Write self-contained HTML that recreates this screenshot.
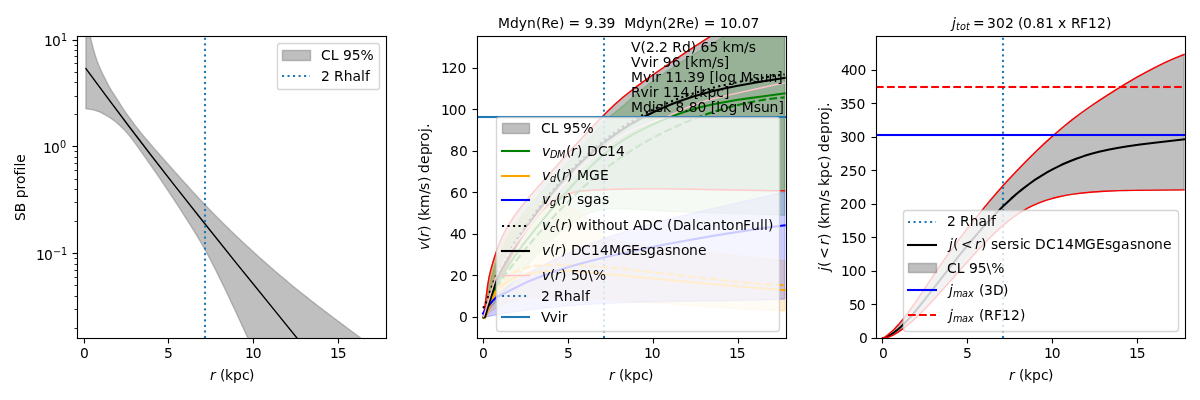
<!DOCTYPE html>
<html lang="en">
<head>
<meta charset="utf-8">
<title>Rotation curve summary</title>
<style>
html,body{margin:0;padding:0;background:#fff;}
body{width:1200px;height:400px;overflow:hidden;}
svg{display:block;}
svg text{white-space:pre;}
</style>
</head>
<body>
<svg width="1200" height="400" viewBox="0 0 864 288" version="1.1">
<defs>
<style type="text/css">*{stroke-linejoin: round; stroke-linecap: butt}</style>
</defs>
<g id="figure_1">
<g id="patch_1">
<path d="M 0 288 L 864 288 L 864 0 L 0 0 z" style="fill: #ffffff"/>
</g>
<g id="axes_1">
<g id="patch_2">
<path d="M 55.44 243.36 L 277.92 243.36 L 277.92 25.92 L 55.44 25.92 z" style="fill: #ffffff"/>
</g>
<g id="FillBetweenPolyCollection_1">
<path d="M 61.884 9.978 L 61.884 78.340 L 63.215 78.472 L 64.547 78.660 L 65.878 78.887 L 67.210 79.157 L 68.541 79.500 L 69.873 79.919 L 71.204 80.406 L 72.536 80.986 L 73.867 81.669 L 75.199 82.398 L 76.531 83.138 L 77.862 83.906 L 79.194 84.728 L 80.525 85.631 L 81.857 86.632 L 83.188 87.709 L 84.520 88.825 L 85.851 89.975 L 87.183 91.183 L 88.514 92.476 L 89.846 93.862 L 91.178 95.340 L 92.509 96.910 L 93.841 98.572 L 95.172 100.312 L 96.504 102.094 L 97.835 103.896 L 99.167 105.733 L 100.498 107.599 L 101.830 109.483 L 103.161 111.378 L 104.493 113.272 L 105.825 115.163 L 107.156 117.052 L 108.488 118.947 L 109.819 120.853 L 111.151 122.770 L 112.482 124.698 L 113.814 126.636 L 115.145 128.585 L 116.477 130.545 L 117.808 132.514 L 119.140 134.494 L 120.472 136.484 L 121.803 138.483 L 123.135 140.492 L 124.466 142.510 L 125.798 144.538 L 127.129 146.574 L 128.461 148.620 L 129.792 150.674 L 131.124 152.737 L 132.456 154.808 L 133.787 156.888 L 135.119 158.978 L 136.450 161.083 L 137.782 163.205 L 139.113 165.349 L 140.445 167.519 L 141.776 169.719 L 143.108 171.953 L 144.439 174.225 L 145.771 176.539 L 147.103 178.899 L 148.434 181.308 L 149.766 183.766 L 151.097 186.270 L 152.429 188.817 L 153.760 191.403 L 155.092 194.027 L 156.423 196.684 L 157.755 199.372 L 159.086 202.087 L 160.418 204.828 L 161.750 207.590 L 163.081 210.370 L 164.413 213.167 L 165.744 215.976 L 167.076 218.795 L 168.407 221.624 L 169.739 224.463 L 171.070 227.311 L 172.402 230.169 L 173.733 233.035 L 175.065 235.911 L 176.397 238.794 L 177.728 241.687 L 179.060 244.588 L 180.391 247.497 L 181.723 250.414 L 183.054 253.338 L 184.386 256.271 L 185.717 259.210 L 187.049 262.157 L 188.380 265.111 L 189.712 268.072 L 191.044 271.040 L 192.375 274.014 L 193.707 276.995 L 195.038 279.982 L 196.370 282.975 L 197.701 285.974 L 199.033 288.978 L 200.364 291.988 L 201.696 295.003 L 203.028 298.023 L 204.359 301.049 L 205.691 304.079 L 207.022 307.113 L 208.354 310.152 L 209.685 313.196 L 211.017 316.243 L 212.348 319.294 L 213.680 322.349 L 215.011 325.408 L 216.343 328.470 L 217.675 331.535 L 219.006 334.603 L 220.338 337.674 L 221.669 340.747 L 223.001 343.823 L 224.332 346.902 L 225.664 349.982 L 226.995 353.064 L 228.327 356.149 L 229.658 359.234 L 230.990 362.321 L 232.322 365.410 L 233.653 368.499 L 234.985 371.590 L 236.316 374.681 L 237.648 377.772 L 238.979 380.864 L 240.311 383.956 L 241.642 387.048 L 242.974 390.140 L 244.305 393.231 L 245.637 396.322 L 246.969 399.413 L 248.300 402.502 L 249.632 405.590 L 250.963 408.677 L 252.295 411.763 L 253.626 414.847 L 254.958 417.929 L 256.289 421.009 L 257.621 424.087 L 258.952 427.163 L 260.284 430.236 L 261.616 433.307 L 262.947 436.375 L 264.279 439.440 L 265.610 442.501 L 266.942 445.559 L 268.273 448.614 L 269.605 451.665 L 270.936 454.712 L 272.268 457.755 L 273.6 460.793 L 273.6 253.876 L 273.6 253.876 L 272.268 252.863 L 270.936 251.852 L 269.605 250.844 L 268.273 249.838 L 266.942 248.835 L 265.610 247.833 L 264.279 246.833 L 262.947 245.835 L 261.616 244.837 L 260.284 243.842 L 258.952 242.847 L 257.621 241.853 L 256.289 240.859 L 254.958 239.866 L 253.626 238.873 L 252.295 237.880 L 250.963 236.887 L 249.632 235.894 L 248.300 234.900 L 246.969 233.905 L 245.637 232.910 L 244.305 231.913 L 242.974 230.915 L 241.642 229.916 L 240.311 228.915 L 238.979 227.912 L 237.648 226.907 L 236.316 225.900 L 234.985 224.890 L 233.653 223.878 L 232.322 222.863 L 230.990 221.845 L 229.658 220.824 L 228.327 219.799 L 226.995 218.771 L 225.664 217.739 L 224.332 216.703 L 223.001 215.663 L 221.669 214.618 L 220.338 213.569 L 219.006 212.516 L 217.675 211.457 L 216.343 210.393 L 215.011 209.324 L 213.680 208.250 L 212.348 207.170 L 211.017 206.084 L 209.685 204.992 L 208.354 203.895 L 207.022 202.791 L 205.691 201.682 L 204.359 200.567 L 203.028 199.446 L 201.696 198.320 L 200.364 197.187 L 199.033 196.049 L 197.701 194.905 L 196.370 193.756 L 195.038 192.600 L 193.707 191.439 L 192.375 190.272 L 191.044 189.099 L 189.712 187.921 L 188.380 186.737 L 187.049 185.547 L 185.717 184.352 L 184.386 183.151 L 183.054 181.944 L 181.723 180.731 L 180.391 179.513 L 179.060 178.289 L 177.728 177.060 L 176.397 175.825 L 175.065 174.583 L 173.733 173.336 L 172.402 172.082 L 171.070 170.822 L 169.739 169.555 L 168.407 168.282 L 167.076 167.002 L 165.744 165.715 L 164.413 164.422 L 163.081 163.121 L 161.750 161.813 L 160.418 160.497 L 159.086 159.174 L 157.755 157.844 L 156.423 156.506 L 155.092 155.159 L 153.760 153.805 L 152.429 152.443 L 151.097 151.073 L 149.766 149.694 L 148.434 148.307 L 147.103 146.911 L 145.771 145.506 L 144.439 144.093 L 143.108 142.671 L 141.776 141.240 L 140.445 139.801 L 139.113 138.354 L 137.782 136.900 L 136.450 135.439 L 135.119 133.972 L 133.787 132.500 L 132.456 131.022 L 131.124 129.540 L 129.792 128.053 L 128.461 126.563 L 127.129 125.070 L 125.798 123.574 L 124.466 122.076 L 123.135 120.576 L 121.803 119.075 L 120.472 117.573 L 119.140 116.071 L 117.808 114.570 L 116.477 113.069 L 115.145 111.566 L 113.814 110.060 L 112.482 108.548 L 111.151 107.030 L 109.819 105.501 L 108.488 103.962 L 107.156 102.409 L 105.825 100.840 L 104.493 99.254 L 103.161 97.649 L 101.830 96.022 L 100.498 94.372 L 99.167 92.696 L 97.835 90.992 L 96.504 89.259 L 95.172 87.491 L 93.841 85.687 L 92.509 83.843 L 91.178 81.955 L 89.846 80.020 L 88.514 78.032 L 87.183 75.983 L 85.851 73.884 L 84.520 71.772 L 83.188 69.697 L 81.857 67.662 L 80.525 65.609 L 79.194 63.447 L 77.862 61.064 L 76.531 58.420 L 75.199 55.749 L 73.867 53.114 L 72.536 50.275 L 71.204 47.142 L 69.873 43.680 L 68.541 39.784 L 67.210 35.311 L 65.878 29.958 L 64.547 23.801 L 63.215 17.127 L 61.884 9.978 z" clip-path="url(#p9da2a6574b)" style="fill: #808080; fill-opacity: 0.5; stroke: #808080; stroke-opacity: 0.5"/>
</g>
<g id="matplotlib.axis_1">
<g id="xtick_1">
<g id="line2d_1">
<defs>
<path id="m7a11be87dc" d="M 0 0 L 0 3.6" style="stroke: #000000; stroke-width: 0.8"/>
</defs>
<g>
<use href="#m7a11be87dc" x="60.84" y="243.72" style="stroke: #000000; stroke-width: 0.8"/>
</g>
</g>
<g id="tx4"><text transform="translate(57.6 257.76)" style="font-family: 'DejaVu Sans', 'Liberation Sans', sans-serif"><tspan x="0" y="0" style="font-size: 10px">0</tspan></text></g>
</g>
<g id="xtick_2">
<g id="line2d_2">
<g>
<use href="#m7a11be87dc" x="121.32" y="243.72" style="stroke: #000000; stroke-width: 0.8"/>
</g>
</g>
<g id="tx6"><text transform="translate(118.8 257.76)" style="font-family: 'DejaVu Sans', 'Liberation Sans', sans-serif"><tspan x="-0.72" y="0" style="font-size: 10px">5</tspan></text></g>
</g>
<g id="xtick_3">
<g id="line2d_3">
<g>
<use href="#m7a11be87dc" x="182.52" y="243.72" style="stroke: #000000; stroke-width: 0.8"/>
</g>
</g>
<g id="tx8"><text transform="translate(177.12 257.76)" style="font-family: 'DejaVu Sans', 'Liberation Sans', sans-serif"><tspan x="-0.72 4.95" y="0" style="font-size: 10px">10</tspan></text></g>
</g>
<g id="xtick_4">
<g id="line2d_4">
<g>
<use href="#m7a11be87dc" x="243.72" y="243.72" style="stroke: #000000; stroke-width: 0.8"/>
</g>
</g>
<g id="tx10"><text transform="translate(238.32 257.76)" style="font-family: 'DejaVu Sans', 'Liberation Sans', sans-serif"><tspan x="-0.72 4.95" y="0" style="font-size: 10px">15</tspan></text></g>
</g>
<g id="tx0"><text transform="translate(150.48 264.96)" style="font-family: 'DejaVu Sans', 'Liberation Sans', sans-serif"><tspan x="0.72" y="8.64" style="font-size: 10px; font-style: oblique">r</tspan><tspan x="4.32 7.92 11.52 17.28 23.76 28.8" y="8.64" style="font-size: 10px"> (kpc)</tspan></text></g>
</g>
<g id="matplotlib.axis_2">
<g id="ytick_1">
<g id="line2d_5">
<defs>
<path id="m886c599e26" d="M 0 0 L -3.6 0" style="stroke: #000000; stroke-width: 0.8"/>
</defs>
<g>
<use href="#m886c599e26" x="55.8" y="182.52" style="stroke: #000000; stroke-width: 0.8"/>
</g>
</g>
<g id="tx20"><text transform="translate(25.2 177.12)" style="font-family: 'DejaVu Sans', 'Liberation Sans', sans-serif"><tspan x="0.72 6.48" y="10.08" style="font-size: 10px">10</tspan><tspan x="12.96 18.72" y="6.48" style="font-size: 7px">−1</tspan></text></g>
</g>
<g id="ytick_2">
<g id="line2d_6">
<g>
<use href="#m886c599e26" x="55.8" y="105.48" style="stroke: #000000; stroke-width: 0.8"/>
</g>
</g>
<g id="tx22"><text transform="translate(30.24 100.08)" style="font-family: 'DejaVu Sans', 'Liberation Sans', sans-serif"><tspan x="0.72 6.48" y="10.08" style="font-size: 10px">10</tspan><tspan x="12.96" y="6.48" style="font-size: 7px">0</tspan></text></g>
</g>
<g id="ytick_3">
<g id="line2d_7">
<g>
<use href="#m886c599e26" x="55.8" y="29.16" style="stroke: #000000; stroke-width: 0.8"/>
</g>
</g>
<g id="tx24"><text transform="translate(30.96 23.04)" style="font-family: 'DejaVu Sans', 'Liberation Sans', sans-serif"><tspan x="0.72 6.48" y="10.08" style="font-size: 10px">10</tspan><tspan x="12.96" y="6.48" style="font-size: 7px">1</tspan></text></g>
</g>
<g id="ytick_4">
<g id="line2d_8">
<defs>
<path id="m1c4f3909a1" d="M 0 0 L -2.16 0" style="stroke: #000000; stroke-width: 0.6"/>
</defs>
<g>
<use href="#m1c4f3909a1" x="55.8" y="236.52" style="stroke: #000000; stroke-width: 0.6"/>
</g>
</g>
</g>
<g id="ytick_5">
<g id="line2d_9">
<g>
<use href="#m1c4f3909a1" x="55.8" y="222.84" style="stroke: #000000; stroke-width: 0.6"/>
</g>
</g>
</g>
<g id="ytick_6">
<g id="line2d_10">
<g>
<use href="#m1c4f3909a1" x="55.8" y="213.48" style="stroke: #000000; stroke-width: 0.6"/>
</g>
</g>
</g>
<g id="ytick_7">
<g id="line2d_11">
<g>
<use href="#m1c4f3909a1" x="55.8" y="205.56" style="stroke: #000000; stroke-width: 0.6"/>
</g>
</g>
</g>
<g id="ytick_8">
<g id="line2d_12">
<g>
<use href="#m1c4f3909a1" x="55.8" y="199.8" style="stroke: #000000; stroke-width: 0.6"/>
</g>
</g>
</g>
<g id="ytick_9">
<g id="line2d_13">
<g>
<use href="#m1c4f3909a1" x="55.8" y="194.76" style="stroke: #000000; stroke-width: 0.6"/>
</g>
</g>
</g>
<g id="ytick_10">
<g id="line2d_14">
<g>
<use href="#m1c4f3909a1" x="55.8" y="190.44" style="stroke: #000000; stroke-width: 0.6"/>
</g>
</g>
</g>
<g id="ytick_11">
<g id="line2d_15">
<g>
<use href="#m1c4f3909a1" x="55.8" y="186.12" style="stroke: #000000; stroke-width: 0.6"/>
</g>
</g>
</g>
<g id="ytick_12">
<g id="line2d_16">
<g>
<use href="#m1c4f3909a1" x="55.8" y="159.48" style="stroke: #000000; stroke-width: 0.6"/>
</g>
</g>
</g>
<g id="ytick_13">
<g id="line2d_17">
<g>
<use href="#m1c4f3909a1" x="55.8" y="145.8" style="stroke: #000000; stroke-width: 0.6"/>
</g>
</g>
</g>
<g id="ytick_14">
<g id="line2d_18">
<g>
<use href="#m1c4f3909a1" x="55.8" y="136.44" style="stroke: #000000; stroke-width: 0.6"/>
</g>
</g>
</g>
<g id="ytick_15">
<g id="line2d_19">
<g>
<use href="#m1c4f3909a1" x="55.8" y="129.24" style="stroke: #000000; stroke-width: 0.6"/>
</g>
</g>
</g>
<g id="ytick_16">
<g id="line2d_20">
<g>
<use href="#m1c4f3909a1" x="55.8" y="122.76" style="stroke: #000000; stroke-width: 0.6"/>
</g>
</g>
</g>
<g id="ytick_17">
<g id="line2d_21">
<g>
<use href="#m1c4f3909a1" x="55.8" y="117.72" style="stroke: #000000; stroke-width: 0.6"/>
</g>
</g>
</g>
<g id="ytick_18">
<g id="line2d_22">
<g>
<use href="#m1c4f3909a1" x="55.8" y="113.4" style="stroke: #000000; stroke-width: 0.6"/>
</g>
</g>
</g>
<g id="ytick_19">
<g id="line2d_23">
<g>
<use href="#m1c4f3909a1" x="55.8" y="109.08" style="stroke: #000000; stroke-width: 0.6"/>
</g>
</g>
</g>
<g id="ytick_20">
<g id="line2d_24">
<g>
<use href="#m1c4f3909a1" x="55.8" y="82.44" style="stroke: #000000; stroke-width: 0.6"/>
</g>
</g>
</g>
<g id="ytick_21">
<g id="line2d_25">
<g>
<use href="#m1c4f3909a1" x="55.8" y="69.48" style="stroke: #000000; stroke-width: 0.6"/>
</g>
</g>
</g>
<g id="ytick_22">
<g id="line2d_26">
<g>
<use href="#m1c4f3909a1" x="55.8" y="59.4" style="stroke: #000000; stroke-width: 0.6"/>
</g>
</g>
</g>
<g id="ytick_23">
<g id="line2d_27">
<g>
<use href="#m1c4f3909a1" x="55.8" y="52.2" style="stroke: #000000; stroke-width: 0.6"/>
</g>
</g>
</g>
<g id="ytick_24">
<g id="line2d_28">
<g>
<use href="#m1c4f3909a1" x="55.8" y="45.72" style="stroke: #000000; stroke-width: 0.6"/>
</g>
</g>
</g>
<g id="ytick_25">
<g id="line2d_29">
<g>
<use href="#m1c4f3909a1" x="55.8" y="40.68" style="stroke: #000000; stroke-width: 0.6"/>
</g>
</g>
</g>
<g id="ytick_26">
<g id="line2d_30">
<g>
<use href="#m1c4f3909a1" x="55.8" y="36.36" style="stroke: #000000; stroke-width: 0.6"/>
</g>
</g>
</g>
<g id="ytick_27">
<g id="line2d_31">
<g>
<use href="#m1c4f3909a1" x="55.8" y="32.76" style="stroke: #000000; stroke-width: 0.6"/>
</g>
</g>
</g>
<g id="tx14"><text transform="translate(18 159.12) rotate(-90)" style="font-family: 'DejaVu Sans', 'Liberation Sans', sans-serif"><tspan x="0 6.3 13.23 16.38 22.77 26.73 32.85 36.45 39.24 42.03" y="0" style="font-size: 10px">SB profile</tspan></text></g>
</g>
<g id="line2d_32">
<path d="M 61.884 49.412 L 76.531 69.264 L 92.509 90.517 L 108.488 111.398 L 125.798 133.657 L 145.771 158.954 L 168.407 187.243 L 199.033 225.118 L 250.787 289 L 250.787 289" clip-path="url(#p9da2a6574b)" style="fill: none; stroke: #000000; stroke-linecap: square"/>
</g>
<g id="line2d_33">
<g><path d="M 147.6 243.36 L 147.6 241.86" clip-path="url(#p9da2a6574b)" style="fill: none; stroke: #1f77b4; stroke-width: 1.5; stroke-linecap: butt"/><path d="M 147.6 239.385 L 147.6 237.885" clip-path="url(#p9da2a6574b)" style="fill: none; stroke: #1f77b4; stroke-width: 1.5; stroke-linecap: butt"/><path d="M 147.6 235.41 L 147.6 233.91" clip-path="url(#p9da2a6574b)" style="fill: none; stroke: #1f77b4; stroke-width: 1.5; stroke-linecap: butt"/><path d="M 147.6 231.435 L 147.6 229.935" clip-path="url(#p9da2a6574b)" style="fill: none; stroke: #1f77b4; stroke-width: 1.5; stroke-linecap: butt"/><path d="M 147.6 227.46 L 147.6 225.96" clip-path="url(#p9da2a6574b)" style="fill: none; stroke: #1f77b4; stroke-width: 1.5; stroke-linecap: butt"/><path d="M 147.6 223.485 L 147.6 221.985" clip-path="url(#p9da2a6574b)" style="fill: none; stroke: #1f77b4; stroke-width: 1.5; stroke-linecap: butt"/><path d="M 147.6 219.51 L 147.6 218.01" clip-path="url(#p9da2a6574b)" style="fill: none; stroke: #1f77b4; stroke-width: 1.5; stroke-linecap: butt"/><path d="M 147.6 215.535 L 147.6 214.035" clip-path="url(#p9da2a6574b)" style="fill: none; stroke: #1f77b4; stroke-width: 1.5; stroke-linecap: butt"/><path d="M 147.6 211.56 L 147.6 210.06" clip-path="url(#p9da2a6574b)" style="fill: none; stroke: #1f77b4; stroke-width: 1.5; stroke-linecap: butt"/><path d="M 147.6 207.585 L 147.6 206.085" clip-path="url(#p9da2a6574b)" style="fill: none; stroke: #1f77b4; stroke-width: 1.5; stroke-linecap: butt"/><path d="M 147.6 203.61 L 147.6 202.11" clip-path="url(#p9da2a6574b)" style="fill: none; stroke: #1f77b4; stroke-width: 1.5; stroke-linecap: butt"/><path d="M 147.6 199.635 L 147.6 198.135" clip-path="url(#p9da2a6574b)" style="fill: none; stroke: #1f77b4; stroke-width: 1.5; stroke-linecap: butt"/><path d="M 147.6 195.66 L 147.6 194.16" clip-path="url(#p9da2a6574b)" style="fill: none; stroke: #1f77b4; stroke-width: 1.5; stroke-linecap: butt"/><path d="M 147.6 191.685 L 147.6 190.185" clip-path="url(#p9da2a6574b)" style="fill: none; stroke: #1f77b4; stroke-width: 1.5; stroke-linecap: butt"/><path d="M 147.6 187.71 L 147.6 186.21" clip-path="url(#p9da2a6574b)" style="fill: none; stroke: #1f77b4; stroke-width: 1.5; stroke-linecap: butt"/><path d="M 147.6 183.735 L 147.6 182.235" clip-path="url(#p9da2a6574b)" style="fill: none; stroke: #1f77b4; stroke-width: 1.5; stroke-linecap: butt"/><path d="M 147.6 179.76 L 147.6 178.26" clip-path="url(#p9da2a6574b)" style="fill: none; stroke: #1f77b4; stroke-width: 1.5; stroke-linecap: butt"/><path d="M 147.6 175.785 L 147.6 174.285" clip-path="url(#p9da2a6574b)" style="fill: none; stroke: #1f77b4; stroke-width: 1.5; stroke-linecap: butt"/><path d="M 147.6 171.81 L 147.6 170.31" clip-path="url(#p9da2a6574b)" style="fill: none; stroke: #1f77b4; stroke-width: 1.5; stroke-linecap: butt"/><path d="M 147.6 167.835 L 147.6 166.335" clip-path="url(#p9da2a6574b)" style="fill: none; stroke: #1f77b4; stroke-width: 1.5; stroke-linecap: butt"/><path d="M 147.6 163.86 L 147.6 162.36" clip-path="url(#p9da2a6574b)" style="fill: none; stroke: #1f77b4; stroke-width: 1.5; stroke-linecap: butt"/><path d="M 147.6 159.885 L 147.6 158.385" clip-path="url(#p9da2a6574b)" style="fill: none; stroke: #1f77b4; stroke-width: 1.5; stroke-linecap: butt"/><path d="M 147.6 155.91 L 147.6 154.41" clip-path="url(#p9da2a6574b)" style="fill: none; stroke: #1f77b4; stroke-width: 1.5; stroke-linecap: butt"/><path d="M 147.6 151.935 L 147.6 150.435" clip-path="url(#p9da2a6574b)" style="fill: none; stroke: #1f77b4; stroke-width: 1.5; stroke-linecap: butt"/><path d="M 147.6 147.96 L 147.6 146.46" clip-path="url(#p9da2a6574b)" style="fill: none; stroke: #1f77b4; stroke-width: 1.5; stroke-linecap: butt"/><path d="M 147.6 143.985 L 147.6 142.485" clip-path="url(#p9da2a6574b)" style="fill: none; stroke: #1f77b4; stroke-width: 1.5; stroke-linecap: butt"/><path d="M 147.6 140.01 L 147.6 138.51" clip-path="url(#p9da2a6574b)" style="fill: none; stroke: #1f77b4; stroke-width: 1.5; stroke-linecap: butt"/><path d="M 147.6 136.035 L 147.6 134.535" clip-path="url(#p9da2a6574b)" style="fill: none; stroke: #1f77b4; stroke-width: 1.5; stroke-linecap: butt"/><path d="M 147.6 132.06 L 147.6 130.56" clip-path="url(#p9da2a6574b)" style="fill: none; stroke: #1f77b4; stroke-width: 1.5; stroke-linecap: butt"/><path d="M 147.6 128.085 L 147.6 126.585" clip-path="url(#p9da2a6574b)" style="fill: none; stroke: #1f77b4; stroke-width: 1.5; stroke-linecap: butt"/><path d="M 147.6 124.11 L 147.6 122.61" clip-path="url(#p9da2a6574b)" style="fill: none; stroke: #1f77b4; stroke-width: 1.5; stroke-linecap: butt"/><path d="M 147.6 120.135 L 147.6 118.635" clip-path="url(#p9da2a6574b)" style="fill: none; stroke: #1f77b4; stroke-width: 1.5; stroke-linecap: butt"/><path d="M 147.6 116.16 L 147.6 114.66" clip-path="url(#p9da2a6574b)" style="fill: none; stroke: #1f77b4; stroke-width: 1.5; stroke-linecap: butt"/><path d="M 147.6 112.185 L 147.6 110.685" clip-path="url(#p9da2a6574b)" style="fill: none; stroke: #1f77b4; stroke-width: 1.5; stroke-linecap: butt"/><path d="M 147.6 108.21 L 147.6 106.71" clip-path="url(#p9da2a6574b)" style="fill: none; stroke: #1f77b4; stroke-width: 1.5; stroke-linecap: butt"/><path d="M 147.6 104.235 L 147.6 102.735" clip-path="url(#p9da2a6574b)" style="fill: none; stroke: #1f77b4; stroke-width: 1.5; stroke-linecap: butt"/><path d="M 147.6 100.26 L 147.6 98.76" clip-path="url(#p9da2a6574b)" style="fill: none; stroke: #1f77b4; stroke-width: 1.5; stroke-linecap: butt"/><path d="M 147.6 96.285 L 147.6 94.785" clip-path="url(#p9da2a6574b)" style="fill: none; stroke: #1f77b4; stroke-width: 1.5; stroke-linecap: butt"/><path d="M 147.6 92.31 L 147.6 90.81" clip-path="url(#p9da2a6574b)" style="fill: none; stroke: #1f77b4; stroke-width: 1.5; stroke-linecap: butt"/><path d="M 147.6 88.335 L 147.6 86.835" clip-path="url(#p9da2a6574b)" style="fill: none; stroke: #1f77b4; stroke-width: 1.5; stroke-linecap: butt"/><path d="M 147.6 84.36 L 147.6 82.86" clip-path="url(#p9da2a6574b)" style="fill: none; stroke: #1f77b4; stroke-width: 1.5; stroke-linecap: butt"/><path d="M 147.6 80.385 L 147.6 78.885" clip-path="url(#p9da2a6574b)" style="fill: none; stroke: #1f77b4; stroke-width: 1.5; stroke-linecap: butt"/><path d="M 147.6 76.41 L 147.6 74.91" clip-path="url(#p9da2a6574b)" style="fill: none; stroke: #1f77b4; stroke-width: 1.5; stroke-linecap: butt"/><path d="M 147.6 72.435 L 147.6 70.935" clip-path="url(#p9da2a6574b)" style="fill: none; stroke: #1f77b4; stroke-width: 1.5; stroke-linecap: butt"/><path d="M 147.6 68.46 L 147.6 66.96" clip-path="url(#p9da2a6574b)" style="fill: none; stroke: #1f77b4; stroke-width: 1.5; stroke-linecap: butt"/><path d="M 147.6 64.485 L 147.6 62.985" clip-path="url(#p9da2a6574b)" style="fill: none; stroke: #1f77b4; stroke-width: 1.5; stroke-linecap: butt"/><path d="M 147.6 60.51 L 147.6 59.01" clip-path="url(#p9da2a6574b)" style="fill: none; stroke: #1f77b4; stroke-width: 1.5; stroke-linecap: butt"/><path d="M 147.6 56.535 L 147.6 55.035" clip-path="url(#p9da2a6574b)" style="fill: none; stroke: #1f77b4; stroke-width: 1.5; stroke-linecap: butt"/><path d="M 147.6 52.56 L 147.6 51.06" clip-path="url(#p9da2a6574b)" style="fill: none; stroke: #1f77b4; stroke-width: 1.5; stroke-linecap: butt"/><path d="M 147.6 48.585 L 147.6 47.085" clip-path="url(#p9da2a6574b)" style="fill: none; stroke: #1f77b4; stroke-width: 1.5; stroke-linecap: butt"/><path d="M 147.6 44.61 L 147.6 43.11" clip-path="url(#p9da2a6574b)" style="fill: none; stroke: #1f77b4; stroke-width: 1.5; stroke-linecap: butt"/><path d="M 147.6 40.635 L 147.6 39.135" clip-path="url(#p9da2a6574b)" style="fill: none; stroke: #1f77b4; stroke-width: 1.5; stroke-linecap: butt"/><path d="M 147.6 36.66 L 147.6 35.16" clip-path="url(#p9da2a6574b)" style="fill: none; stroke: #1f77b4; stroke-width: 1.5; stroke-linecap: butt"/><path d="M 147.6 32.685 L 147.6 31.185" clip-path="url(#p9da2a6574b)" style="fill: none; stroke: #1f77b4; stroke-width: 1.5; stroke-linecap: butt"/><path d="M 147.6 28.71 L 147.6 27.21" clip-path="url(#p9da2a6574b)" style="fill: none; stroke: #1f77b4; stroke-width: 1.5; stroke-linecap: butt"/></g>
</g>
<g id="patch_3">
<g><path d="M 55.8 244.12 L 55.8 226.8" style="fill: none; stroke: #000000; stroke-width: 0.8; stroke-linejoin: miter; stroke-linecap: butt"/><path d="M 55.8 226.8 L 55.8 209.52" style="fill: none; stroke: #000000; stroke-width: 0.8; stroke-linejoin: miter; stroke-linecap: butt"/><path d="M 55.8 209.52 L 55.8 192.24" style="fill: none; stroke: #000000; stroke-width: 0.8; stroke-linejoin: miter; stroke-linecap: butt"/><path d="M 55.8 192.24 L 55.8 174.96" style="fill: none; stroke: #000000; stroke-width: 0.8; stroke-linejoin: miter; stroke-linecap: butt"/><path d="M 55.8 174.96 L 55.8 157.68" style="fill: none; stroke: #000000; stroke-width: 0.8; stroke-linejoin: miter; stroke-linecap: butt"/><path d="M 55.8 157.68 L 55.8 140.4" style="fill: none; stroke: #000000; stroke-width: 0.8; stroke-linejoin: miter; stroke-linecap: butt"/><path d="M 55.8 140.4 L 55.8 123.12" style="fill: none; stroke: #000000; stroke-width: 0.8; stroke-linejoin: miter; stroke-linecap: butt"/><path d="M 55.8 123.12 L 55.8 105.84" style="fill: none; stroke: #000000; stroke-width: 0.8; stroke-linejoin: miter; stroke-linecap: butt"/><path d="M 55.8 105.84 L 55.8 88.56" style="fill: none; stroke: #000000; stroke-width: 0.8; stroke-linejoin: miter; stroke-linecap: butt"/><path d="M 55.8 88.56 L 55.8 71.28" style="fill: none; stroke: #000000; stroke-width: 0.8; stroke-linejoin: miter; stroke-linecap: butt"/><path d="M 55.8 71.28 L 55.8 54" style="fill: none; stroke: #000000; stroke-width: 0.8; stroke-linejoin: miter; stroke-linecap: butt"/><path d="M 55.8 54 L 55.8 36.72" style="fill: none; stroke: #000000; stroke-width: 0.8; stroke-linejoin: miter; stroke-linecap: butt"/><path d="M 55.8 36.72 L 55.8 25.88" style="fill: none; stroke: #000000; stroke-width: 0.8; stroke-linejoin: miter; stroke-linecap: butt"/></g>
</g>
<g id="patch_4">
<g><path d="M 278.28 244.12 L 278.28 226.8" style="fill: none; stroke: #000000; stroke-width: 0.8; stroke-linejoin: miter; stroke-linecap: butt"/><path d="M 278.28 226.8 L 278.28 209.52" style="fill: none; stroke: #000000; stroke-width: 0.8; stroke-linejoin: miter; stroke-linecap: butt"/><path d="M 278.28 209.52 L 278.28 192.24" style="fill: none; stroke: #000000; stroke-width: 0.8; stroke-linejoin: miter; stroke-linecap: butt"/><path d="M 278.28 192.24 L 278.28 174.96" style="fill: none; stroke: #000000; stroke-width: 0.8; stroke-linejoin: miter; stroke-linecap: butt"/><path d="M 278.28 174.96 L 278.28 157.68" style="fill: none; stroke: #000000; stroke-width: 0.8; stroke-linejoin: miter; stroke-linecap: butt"/><path d="M 278.28 157.68 L 278.28 140.4" style="fill: none; stroke: #000000; stroke-width: 0.8; stroke-linejoin: miter; stroke-linecap: butt"/><path d="M 278.28 140.4 L 278.28 123.12" style="fill: none; stroke: #000000; stroke-width: 0.8; stroke-linejoin: miter; stroke-linecap: butt"/><path d="M 278.28 123.12 L 278.28 105.84" style="fill: none; stroke: #000000; stroke-width: 0.8; stroke-linejoin: miter; stroke-linecap: butt"/><path d="M 278.28 105.84 L 278.28 88.56" style="fill: none; stroke: #000000; stroke-width: 0.8; stroke-linejoin: miter; stroke-linecap: butt"/><path d="M 278.28 88.56 L 278.28 71.28" style="fill: none; stroke: #000000; stroke-width: 0.8; stroke-linejoin: miter; stroke-linecap: butt"/><path d="M 278.28 71.28 L 278.28 54" style="fill: none; stroke: #000000; stroke-width: 0.8; stroke-linejoin: miter; stroke-linecap: butt"/><path d="M 278.28 54 L 278.28 36.72" style="fill: none; stroke: #000000; stroke-width: 0.8; stroke-linejoin: miter; stroke-linecap: butt"/><path d="M 278.28 36.72 L 278.28 25.88" style="fill: none; stroke: #000000; stroke-width: 0.8; stroke-linejoin: miter; stroke-linecap: butt"/></g>
</g>
<g id="patch_5">
<g><path d="M 55.4 243.72 L 72.72 243.72" style="fill: none; stroke: #000000; stroke-width: 0.8; stroke-linejoin: miter; stroke-linecap: butt"/><path d="M 72.72 243.72 L 90 243.72" style="fill: none; stroke: #000000; stroke-width: 0.8; stroke-linejoin: miter; stroke-linecap: butt"/><path d="M 90 243.72 L 107.28 243.72" style="fill: none; stroke: #000000; stroke-width: 0.8; stroke-linejoin: miter; stroke-linecap: butt"/><path d="M 107.28 243.72 L 124.56 243.72" style="fill: none; stroke: #000000; stroke-width: 0.8; stroke-linejoin: miter; stroke-linecap: butt"/><path d="M 124.56 243.72 L 141.84 243.72" style="fill: none; stroke: #000000; stroke-width: 0.8; stroke-linejoin: miter; stroke-linecap: butt"/><path d="M 141.84 243.72 L 159.12 243.72" style="fill: none; stroke: #000000; stroke-width: 0.8; stroke-linejoin: miter; stroke-linecap: butt"/><path d="M 159.12 243.72 L 176.4 243.72" style="fill: none; stroke: #000000; stroke-width: 0.8; stroke-linejoin: miter; stroke-linecap: butt"/><path d="M 176.4 243.72 L 193.68 243.72" style="fill: none; stroke: #000000; stroke-width: 0.8; stroke-linejoin: miter; stroke-linecap: butt"/><path d="M 193.68 243.72 L 210.96 243.72" style="fill: none; stroke: #000000; stroke-width: 0.8; stroke-linejoin: miter; stroke-linecap: butt"/><path d="M 210.96 243.72 L 228.24 243.72" style="fill: none; stroke: #000000; stroke-width: 0.8; stroke-linejoin: miter; stroke-linecap: butt"/><path d="M 228.24 243.72 L 245.52 243.72" style="fill: none; stroke: #000000; stroke-width: 0.8; stroke-linejoin: miter; stroke-linecap: butt"/><path d="M 245.52 243.72 L 262.8 243.72" style="fill: none; stroke: #000000; stroke-width: 0.8; stroke-linejoin: miter; stroke-linecap: butt"/><path d="M 262.8 243.72 L 278.68 243.72" style="fill: none; stroke: #000000; stroke-width: 0.8; stroke-linejoin: miter; stroke-linecap: butt"/></g>
</g>
<g id="patch_6">
<g><path d="M 55.4 26.28 L 72.72 26.28" style="fill: none; stroke: #000000; stroke-width: 0.8; stroke-linejoin: miter; stroke-linecap: butt"/><path d="M 72.72 26.28 L 90 26.28" style="fill: none; stroke: #000000; stroke-width: 0.8; stroke-linejoin: miter; stroke-linecap: butt"/><path d="M 90 26.28 L 107.28 26.28" style="fill: none; stroke: #000000; stroke-width: 0.8; stroke-linejoin: miter; stroke-linecap: butt"/><path d="M 107.28 26.28 L 124.56 26.28" style="fill: none; stroke: #000000; stroke-width: 0.8; stroke-linejoin: miter; stroke-linecap: butt"/><path d="M 124.56 26.28 L 141.84 26.28" style="fill: none; stroke: #000000; stroke-width: 0.8; stroke-linejoin: miter; stroke-linecap: butt"/><path d="M 141.84 26.28 L 159.12 26.28" style="fill: none; stroke: #000000; stroke-width: 0.8; stroke-linejoin: miter; stroke-linecap: butt"/><path d="M 159.12 26.28 L 176.4 26.28" style="fill: none; stroke: #000000; stroke-width: 0.8; stroke-linejoin: miter; stroke-linecap: butt"/><path d="M 176.4 26.28 L 193.68 26.28" style="fill: none; stroke: #000000; stroke-width: 0.8; stroke-linejoin: miter; stroke-linecap: butt"/><path d="M 193.68 26.28 L 210.96 26.28" style="fill: none; stroke: #000000; stroke-width: 0.8; stroke-linejoin: miter; stroke-linecap: butt"/><path d="M 210.96 26.28 L 228.24 26.28" style="fill: none; stroke: #000000; stroke-width: 0.8; stroke-linejoin: miter; stroke-linecap: butt"/><path d="M 228.24 26.28 L 245.52 26.28" style="fill: none; stroke: #000000; stroke-width: 0.8; stroke-linejoin: miter; stroke-linecap: butt"/><path d="M 245.52 26.28 L 262.8 26.28" style="fill: none; stroke: #000000; stroke-width: 0.8; stroke-linejoin: miter; stroke-linecap: butt"/><path d="M 262.8 26.28 L 278.68 26.28" style="fill: none; stroke: #000000; stroke-width: 0.8; stroke-linejoin: miter; stroke-linecap: butt"/></g>
</g>
<g id="legend_1">
<g id="patch_7">
<path d="M 201.24 64.44 L 271.08 64.44 Q 273.24 64.44 273.24 63 L 273.24 33.48 Q 273.24 31.32 271.08 31.32 L 201.24 31.32 Q 199.8 31.32 199.8 33.48 L 199.8 63 Q 199.8 64.44 201.24 64.44 z" style="fill: #ffffff; fill-opacity: 0.8; stroke: #cccccc; stroke-opacity: 0.8; stroke-linejoin: miter"/>
</g>
<g id="patch_8">
<path d="M 203.4 43.56 L 223.56 43.56 L 223.56 36.36 L 203.4 36.36 z" style="fill: #808080; fill-opacity: 0.5; stroke: #808080; stroke-opacity: 0.5; stroke-linejoin: miter"/>
</g>
<g id="tx146"><text transform="translate(231.12 43.2)" style="font-family: 'DejaVu Sans', 'Liberation Sans', sans-serif"><tspan x="0 7.02 12.6 15.75 22.14 28.44" y="0" style="font-size: 10px">CL 95%</tspan></text></g>
<g id="line2d_34">
<path d="M 203.04 54.72 L 213.12 54.72 L 223.2 54.72" style="fill: none; stroke-dasharray: 1.5,2.475; stroke-dashoffset: 0; stroke: #1f77b4; stroke-width: 1.5"/>
</g>
<g id="tx147"><text transform="translate(231.12 58.32)" style="font-family: 'DejaVu Sans', 'Liberation Sans', sans-serif"><tspan x="0 6.3 9.45 16.38 22.68 28.89 31.68" y="0" style="font-size: 10px">2 Rhalf</tspan></text></g>
</g>
</g>
<g id="axes_2">
<g id="patch_9">
<path d="M 343.44 243.36 L 565.92 243.36 L 565.92 25.92 L 343.44 25.92 z" style="fill: #ffffff"/>
</g>
<g id="FillBetweenPolyCollection_2">
<defs>
<path id="m8e7a595700" d="M 348.192 -60.542
L 348.192 -59.04
L 349.181 -59.843
L 350.171 -62.769
L 351.161 -65.662
L 352.150 -68.523
L 353.140 -71.353
L 354.130 -74.146
L 355.119 -76.979
L 356.109 -79.715
L 357.099 -82.156
L 358.088 -84.331
L 359.078 -86.359
L 360.068 -88.336
L 361.058 -90.268
L 362.047 -92.140
L 363.037 -93.987
L 364.027 -95.855
L 365.016 -97.752
L 366.006 -99.649
L 366.996 -101.535
L 367.985 -103.400
L 368.975 -105.236
L 369.965 -107.037
L 370.955 -108.802
L 371.944 -110.544
L 372.934 -112.263
L 373.924 -113.951
L 374.913 -115.602
L 375.903 -117.211
L 376.893 -118.776
L 377.882 -120.296
L 378.872 -121.773
L 379.862 -123.212
L 380.851 -124.617
L 381.841 -125.994
L 382.831 -127.338
L 383.821 -128.645
L 384.810 -129.914
L 385.800 -131.144
L 386.790 -132.335
L 387.779 -133.484
L 388.769 -134.591
L 389.759 -135.656
L 390.748 -136.678
L 391.738 -137.658
L 392.728 -138.596
L 393.718 -139.493
L 394.707 -140.349
L 395.697 -141.164
L 396.687 -141.939
L 397.676 -142.675
L 398.666 -143.371
L 399.656 -144.028
L 400.645 -144.646
L 401.635 -145.226
L 402.625 -145.769
L 403.615 -146.274
L 404.604 -146.743
L 405.594 -147.176
L 406.584 -147.577
L 407.573 -147.945
L 408.563 -148.284
L 409.553 -148.594
L 410.542 -148.876
L 411.532 -149.134
L 412.522 -149.367
L 413.511 -149.578
L 414.501 -149.769
L 415.491 -149.940
L 416.481 -150.093
L 417.470 -150.231
L 418.460 -150.354
L 419.450 -150.464
L 420.439 -150.563
L 421.429 -150.652
L 422.419 -150.734
L 423.408 -150.808
L 424.398 -150.878
L 425.388 -150.944
L 426.378 -151.007
L 427.367 -151.068
L 428.357 -151.126
L 429.347 -151.181
L 430.336 -151.234
L 431.326 -151.285
L 432.316 -151.334
L 433.305 -151.380
L 434.295 -151.424
L 435.285 -151.466
L 436.274 -151.506
L 437.264 -151.544
L 438.254 -151.580
L 439.244 -151.614
L 440.233 -151.647
L 441.223 -151.678
L 442.213 -151.707
L 443.202 -151.735
L 444.192 -151.761
L 445.182 -151.786
L 446.171 -151.810
L 447.161 -151.832
L 448.151 -151.853
L 449.141 -151.874
L 450.130 -151.892
L 451.120 -151.910
L 452.110 -151.927
L 453.099 -151.942
L 454.089 -151.957
L 455.079 -151.970
L 456.068 -151.982
L 457.058 -151.994
L 458.048 -152.004
L 459.038 -152.013
L 460.027 -152.021
L 461.017 -152.028
L 462.007 -152.034
L 462.996 -152.040
L 463.986 -152.044
L 464.976 -152.047
L 465.965 -152.050
L 466.955 -152.051
L 467.945 -152.052
L 468.934 -152.052
L 469.924 -152.051
L 470.914 -152.049
L 471.904 -152.046
L 472.893 -152.043
L 473.883 -152.039
L 474.873 -152.034
L 475.862 -152.028
L 476.852 -152.022
L 477.842 -152.015
L 478.831 -152.007
L 479.821 -151.998
L 480.811 -151.989
L 481.801 -151.979
L 482.790 -151.969
L 483.780 -151.958
L 484.770 -151.946
L 485.759 -151.934
L 486.749 -151.921
L 487.739 -151.908
L 488.728 -151.894
L 489.718 -151.880
L 490.708 -151.865
L 491.697 -151.850
L 492.687 -151.834
L 493.677 -151.818
L 494.667 -151.801
L 495.656 -151.784
L 496.646 -151.767
L 497.636 -151.749
L 498.625 -151.731
L 499.615 -151.712
L 500.605 -151.693
L 501.594 -151.674
L 502.584 -151.655
L 503.574 -151.635
L 504.564 -151.615
L 505.553 -151.595
L 506.543 -151.574
L 507.533 -151.553
L 508.522 -151.532
L 509.512 -151.511
L 510.502 -151.490
L 511.491 -151.469
L 512.481 -151.447
L 513.471 -151.425
L 514.461 -151.404
L 515.450 -151.382
L 516.440 -151.360
L 517.430 -151.338
L 518.419 -151.316
L 519.409 -151.294
L 520.399 -151.272
L 521.388 -151.250
L 522.378 -151.228
L 523.368 -151.206
L 524.357 -151.184
L 525.347 -151.162
L 526.337 -151.141
L 527.327 -151.119
L 528.316 -151.098
L 529.306 -151.076
L 530.296 -151.055
L 531.285 -151.034
L 532.275 -151.014
L 533.265 -150.993
L 534.254 -150.973
L 535.244 -150.953
L 536.234 -150.933
L 537.224 -150.913
L 538.213 -150.894
L 539.203 -150.875
L 540.193 -150.856
L 541.182 -150.838
L 542.172 -150.820
L 543.162 -150.803
L 544.151 -150.786
L 545.141 -150.769
L 546.131 -150.753
L 547.120 -150.737
L 548.110 -150.721
L 549.100 -150.706
L 550.090 -150.692
L 551.079 -150.678
L 552.069 -150.665
L 553.059 -150.652
L 554.048 -150.639
L 555.038 -150.628
L 556.028 -150.617
L 557.017 -150.606
L 558.007 -150.596
L 558.997 -150.587
L 559.987 -150.578
L 560.976 -150.570
L 561.966 -150.563
L 562.956 -150.556
L 563.945 -150.551
L 564.935 -150.545
L 564.935 -293.557
L 564.935 -293.557
L 563.945 -293.013
L 562.956 -292.466
L 561.966 -291.918
L 560.976 -291.369
L 559.987 -290.817
L 558.997 -290.264
L 558.007 -289.709
L 557.017 -289.153
L 556.028 -288.595
L 555.038 -288.035
L 554.048 -287.473
L 553.059 -286.910
L 552.069 -286.345
L 551.079 -285.779
L 550.090 -285.210
L 549.100 -284.640
L 548.110 -284.069
L 547.120 -283.496
L 546.131 -282.921
L 545.141 -282.345
L 544.151 -281.766
L 543.162 -281.187
L 542.172 -280.605
L 541.182 -280.022
L 540.193 -279.438
L 539.203 -278.851
L 538.213 -278.263
L 537.224 -277.674
L 536.234 -277.083
L 535.244 -276.490
L 534.254 -275.896
L 533.265 -275.300
L 532.275 -274.702
L 531.285 -274.103
L 530.296 -273.502
L 529.306 -272.900
L 528.316 -272.296
L 527.327 -271.690
L 526.337 -271.083
L 525.347 -270.475
L 524.357 -269.864
L 523.368 -269.253
L 522.378 -268.639
L 521.388 -268.024
L 520.399 -267.408
L 519.409 -266.790
L 518.419 -266.170
L 517.430 -265.549
L 516.440 -264.926
L 515.450 -264.302
L 514.461 -263.676
L 513.471 -263.049
L 512.481 -262.420
L 511.491 -261.789
L 510.502 -261.157
L 509.512 -260.524
L 508.522 -259.889
L 507.533 -259.252
L 506.543 -258.614
L 505.553 -257.975
L 504.564 -257.334
L 503.574 -256.691
L 502.584 -256.047
L 501.594 -255.402
L 500.605 -254.755
L 499.615 -254.106
L 498.625 -253.456
L 497.636 -252.805
L 496.646 -252.152
L 495.656 -251.497
L 494.667 -250.841
L 493.677 -250.184
L 492.687 -249.525
L 491.697 -248.865
L 490.708 -248.203
L 489.718 -247.540
L 488.728 -246.875
L 487.739 -246.209
L 486.749 -245.541
L 485.759 -244.872
L 484.770 -244.202
L 483.780 -243.530
L 482.790 -242.857
L 481.801 -242.182
L 480.811 -241.506
L 479.821 -240.828
L 478.831 -240.149
L 477.842 -239.469
L 476.852 -238.787
L 475.862 -238.103
L 474.873 -237.419
L 473.883 -236.733
L 472.893 -236.045
L 471.904 -235.356
L 470.914 -234.666
L 469.924 -233.975
L 468.934 -233.282
L 467.945 -232.587
L 466.955 -231.890
L 465.965 -231.191
L 464.976 -230.488
L 463.986 -229.782
L 462.996 -229.071
L 462.007 -228.356
L 461.017 -227.636
L 460.027 -226.910
L 459.038 -226.178
L 458.048 -225.440
L 457.058 -224.694
L 456.068 -223.941
L 455.079 -223.179
L 454.089 -222.409
L 453.099 -221.630
L 452.110 -220.841
L 451.120 -220.042
L 450.130 -219.232
L 449.141 -218.411
L 448.151 -217.578
L 447.161 -216.734
L 446.171 -215.876
L 445.182 -215.006
L 444.192 -214.123
L 443.202 -213.228
L 442.213 -212.321
L 441.223 -211.403
L 440.233 -210.474
L 439.244 -209.535
L 438.254 -208.585
L 437.264 -207.626
L 436.274 -206.657
L 435.285 -205.679
L 434.295 -204.693
L 433.305 -203.698
L 432.316 -202.696
L 431.326 -201.686
L 430.336 -200.670
L 429.347 -199.647
L 428.357 -198.617
L 427.367 -197.582
L 426.378 -196.542
L 425.388 -195.497
L 424.398 -194.447
L 423.408 -193.393
L 422.419 -192.335
L 421.429 -191.274
L 420.439 -190.209
L 419.450 -189.141
L 418.460 -188.071
L 417.470 -186.997
L 416.481 -185.920
L 415.491 -184.841
L 414.501 -183.759
L 413.511 -182.674
L 412.522 -181.588
L 411.532 -180.499
L 410.542 -179.408
L 409.553 -178.314
L 408.563 -177.219
L 407.573 -176.123
L 406.584 -175.024
L 405.594 -173.924
L 404.604 -172.823
L 403.615 -171.720
L 402.625 -170.616
L 401.635 -169.511
L 400.645 -168.405
L 399.656 -167.298
L 398.666 -166.191
L 397.676 -165.083
L 396.687 -163.974
L 395.697 -162.865
L 394.707 -161.756
L 393.718 -160.647
L 392.728 -159.537
L 391.738 -158.428
L 390.748 -157.318
L 389.759 -156.207
L 388.769 -155.092
L 387.779 -153.973
L 386.790 -152.850
L 385.800 -151.720
L 384.810 -150.582
L 383.821 -149.436
L 382.831 -148.280
L 381.841 -147.114
L 380.851 -145.927
L 379.862 -144.728
L 378.872 -143.518
L 377.882 -142.296
L 376.893 -141.063
L 375.903 -139.825
L 374.913 -138.580
L 373.924 -137.324
L 372.934 -136.047
L 371.944 -134.739
L 370.955 -133.387
L 369.965 -131.992
L 368.975 -130.545
L 367.985 -129.038
L 366.996 -127.465
L 366.006 -125.820
L 365.016 -124.101
L 364.027 -122.305
L 363.037 -120.420
L 362.047 -118.428
L 361.058 -116.313
L 360.068 -114.041
L 359.078 -111.558
L 358.088 -108.894
L 357.099 -106.082
L 356.109 -103.109
L 355.119 -99.913
L 354.130 -96.441
L 353.140 -92.780
L 352.150 -88.564
L 351.161 -82.941
L 350.171 -75.304
L 349.181 -67.547
L 348.192 -60.542
z
" style="stroke: #808080; stroke-opacity: 0.5"/>
</defs>
<g clip-path="url(#pda94e3d83f)">
<use href="#m8e7a595700" x="0" y="288" style="fill: #808080; fill-opacity: 0.5; stroke: #808080; stroke-opacity: 0.5"/>
</g>
</g>
<g id="FillBetweenPolyCollection_3">
<defs>
<path id="m7137239ef6" d="M 348.192 -59.911
L 348.192 -59.4
L 349.181 -60.833
L 350.171 -62.229
L 351.161 -63.584
L 352.150 -64.891
L 353.140 -66.152
L 354.130 -67.375
L 355.119 -68.568
L 356.109 -69.739
L 357.099 -70.895
L 358.088 -72.035
L 359.078 -73.152
L 360.068 -74.251
L 361.058 -75.336
L 362.047 -76.413
L 363.037 -77.487
L 364.027 -78.567
L 365.016 -79.664
L 366.006 -80.778
L 366.996 -81.911
L 367.985 -83.060
L 368.975 -84.217
L 369.965 -85.380
L 370.955 -86.546
L 371.944 -87.712
L 372.934 -88.877
L 373.924 -90.040
L 374.913 -91.198
L 375.903 -92.353
L 376.893 -93.502
L 377.882 -94.646
L 378.872 -95.787
L 379.862 -96.923
L 380.851 -98.052
L 381.841 -99.170
L 382.831 -100.285
L 383.821 -101.393
L 384.810 -102.495
L 385.800 -103.589
L 386.790 -104.674
L 387.779 -105.750
L 388.769 -106.814
L 389.759 -107.867
L 390.748 -108.907
L 391.738 -109.933
L 392.728 -110.945
L 393.718 -111.941
L 394.707 -112.920
L 395.697 -113.881
L 396.687 -114.824
L 397.676 -115.748
L 398.666 -116.650
L 399.656 -117.531
L 400.645 -118.390
L 401.635 -119.226
L 402.625 -120.042
L 403.615 -120.840
L 404.604 -121.623
L 405.594 -122.392
L 406.584 -123.150
L 407.573 -123.900
L 408.563 -124.643
L 409.553 -125.381
L 410.542 -126.118
L 411.532 -126.856
L 412.522 -127.592
L 413.511 -128.322
L 414.501 -129.040
L 415.491 -129.740
L 416.481 -130.417
L 417.470 -131.064
L 418.460 -131.676
L 419.450 -132.249
L 420.439 -132.784
L 421.429 -133.281
L 422.419 -133.744
L 423.408 -134.172
L 424.398 -134.567
L 425.388 -134.932
L 426.378 -135.266
L 427.367 -135.572
L 428.357 -135.851
L 429.347 -136.104
L 430.336 -136.333
L 431.326 -136.540
L 432.316 -136.725
L 433.305 -136.890
L 434.295 -137.037
L 435.285 -137.166
L 436.274 -137.280
L 437.264 -137.378
L 438.254 -137.462
L 439.244 -137.532
L 440.233 -137.588
L 441.223 -137.632
L 442.213 -137.664
L 443.202 -137.685
L 444.192 -137.695
L 445.182 -137.696
L 446.171 -137.687
L 447.161 -137.669
L 448.151 -137.644
L 449.141 -137.611
L 450.130 -137.572
L 451.120 -137.527
L 452.110 -137.477
L 453.099 -137.422
L 454.089 -137.364
L 455.079 -137.302
L 456.068 -137.238
L 457.058 -137.172
L 458.048 -137.104
L 459.038 -137.036
L 460.027 -136.969
L 461.017 -136.902
L 462.007 -136.837
L 462.996 -136.772
L 463.986 -136.710
L 464.976 -136.648
L 465.965 -136.588
L 466.955 -136.529
L 467.945 -136.471
L 468.934 -136.415
L 469.924 -136.359
L 470.914 -136.305
L 471.904 -136.252
L 472.893 -136.200
L 473.883 -136.149
L 474.873 -136.099
L 475.862 -136.050
L 476.852 -136.002
L 477.842 -135.956
L 478.831 -135.910
L 479.821 -135.865
L 480.811 -135.821
L 481.801 -135.778
L 482.790 -135.736
L 483.780 -135.694
L 484.770 -135.654
L 485.759 -135.614
L 486.749 -135.575
L 487.739 -135.537
L 488.728 -135.499
L 489.718 -135.463
L 490.708 -135.427
L 491.697 -135.391
L 492.687 -135.356
L 493.677 -135.322
L 494.667 -135.289
L 495.656 -135.256
L 496.646 -135.223
L 497.636 -135.191
L 498.625 -135.160
L 499.615 -135.129
L 500.605 -135.099
L 501.594 -135.069
L 502.584 -135.039
L 503.574 -135.010
L 504.564 -134.981
L 505.553 -134.952
L 506.543 -134.924
L 507.533 -134.896
L 508.522 -134.868
L 509.512 -134.841
L 510.502 -134.814
L 511.491 -134.787
L 512.481 -134.760
L 513.471 -134.733
L 514.461 -134.706
L 515.450 -134.680
L 516.440 -134.654
L 517.430 -134.627
L 518.419 -134.601
L 519.409 -134.574
L 520.399 -134.548
L 521.388 -134.522
L 522.378 -134.495
L 523.368 -134.469
L 524.357 -134.442
L 525.347 -134.415
L 526.337 -134.388
L 527.327 -134.361
L 528.316 -134.334
L 529.306 -134.307
L 530.296 -134.279
L 531.285 -134.251
L 532.275 -134.222
L 533.265 -134.194
L 534.254 -134.165
L 535.244 -134.135
L 536.234 -134.106
L 537.224 -134.075
L 538.213 -134.045
L 539.203 -134.014
L 540.193 -133.982
L 541.182 -133.950
L 542.172 -133.917
L 543.162 -133.884
L 544.151 -133.851
L 545.141 -133.816
L 546.131 -133.781
L 547.120 -133.746
L 548.110 -133.709
L 549.100 -133.672
L 550.090 -133.635
L 551.079 -133.596
L 552.069 -133.557
L 553.059 -133.517
L 554.048 -133.476
L 555.038 -133.435
L 556.028 -133.392
L 557.017 -133.349
L 558.007 -133.305
L 558.997 -133.259
L 559.987 -133.213
L 560.976 -133.166
L 561.966 -133.118
L 562.956 -133.069
L 563.945 -133.019
L 564.935 -132.968
L 564.935 -283.611
L 564.935 -283.611
L 563.945 -283.136
L 562.956 -282.660
L 561.966 -282.183
L 560.976 -281.705
L 559.987 -281.226
L 558.997 -280.747
L 558.007 -280.266
L 557.017 -279.785
L 556.028 -279.302
L 555.038 -278.818
L 554.048 -278.333
L 553.059 -277.847
L 552.069 -277.360
L 551.079 -276.871
L 550.090 -276.381
L 549.100 -275.890
L 548.110 -275.398
L 547.120 -274.904
L 546.131 -274.409
L 545.141 -273.913
L 544.151 -273.415
L 543.162 -272.915
L 542.172 -272.414
L 541.182 -271.912
L 540.193 -271.408
L 539.203 -270.902
L 538.213 -270.395
L 537.224 -269.886
L 536.234 -269.375
L 535.244 -268.863
L 534.254 -268.348
L 533.265 -267.832
L 532.275 -267.315
L 531.285 -266.795
L 530.296 -266.273
L 529.306 -265.750
L 528.316 -265.224
L 527.327 -264.697
L 526.337 -264.167
L 525.347 -263.636
L 524.357 -263.102
L 523.368 -262.566
L 522.378 -262.028
L 521.388 -261.488
L 520.399 -260.946
L 519.409 -260.401
L 518.419 -259.855
L 517.430 -259.305
L 516.440 -258.754
L 515.450 -258.200
L 514.461 -257.644
L 513.471 -257.085
L 512.481 -256.524
L 511.491 -255.960
L 510.502 -255.394
L 509.512 -254.825
L 508.522 -254.253
L 507.533 -253.679
L 506.543 -253.102
L 505.553 -252.523
L 504.564 -251.941
L 503.574 -251.356
L 502.584 -250.768
L 501.594 -250.178
L 500.605 -249.584
L 499.615 -248.988
L 498.625 -248.388
L 497.636 -247.786
L 496.646 -247.181
L 495.656 -246.573
L 494.667 -245.961
L 493.677 -245.347
L 492.687 -244.730
L 491.697 -244.109
L 490.708 -243.485
L 489.718 -242.858
L 488.728 -242.228
L 487.739 -241.594
L 486.749 -240.957
L 485.759 -240.317
L 484.770 -239.673
L 483.780 -239.026
L 482.790 -238.375
L 481.801 -237.719
L 480.811 -237.059
L 479.821 -236.395
L 478.831 -235.725
L 477.842 -235.050
L 476.852 -234.370
L 475.862 -233.685
L 474.873 -232.993
L 473.883 -232.295
L 472.893 -231.591
L 471.904 -230.880
L 470.914 -230.162
L 469.924 -229.437
L 468.934 -228.704
L 467.945 -227.964
L 466.955 -227.216
L 465.965 -226.459
L 464.976 -225.695
L 463.986 -224.921
L 462.996 -224.139
L 462.007 -223.347
L 461.017 -222.546
L 460.027 -221.736
L 459.038 -220.915
L 458.048 -220.085
L 457.058 -219.244
L 456.068 -218.392
L 455.079 -217.529
L 454.089 -216.656
L 453.099 -215.775
L 452.110 -214.892
L 451.120 -214.010
L 450.130 -213.134
L 449.141 -212.268
L 448.151 -211.415
L 447.161 -210.581
L 446.171 -209.769
L 445.182 -208.980
L 444.192 -208.205
L 443.202 -207.434
L 442.213 -206.658
L 441.223 -205.867
L 440.233 -205.051
L 439.244 -204.201
L 438.254 -203.308
L 437.264 -202.365
L 436.274 -201.378
L 435.285 -200.352
L 434.295 -199.292
L 433.305 -198.204
L 432.316 -197.094
L 431.326 -195.966
L 430.336 -194.827
L 429.347 -193.681
L 428.357 -192.535
L 427.367 -191.393
L 426.378 -190.255
L 425.388 -189.122
L 424.398 -187.992
L 423.408 -186.866
L 422.419 -185.744
L 421.429 -184.625
L 420.439 -183.510
L 419.450 -182.398
L 418.460 -181.289
L 417.470 -180.182
L 416.481 -179.078
L 415.491 -177.977
L 414.501 -176.877
L 413.511 -175.780
L 412.522 -174.685
L 411.532 -173.591
L 410.542 -172.498
L 409.553 -171.407
L 408.563 -170.317
L 407.573 -169.228
L 406.584 -168.140
L 405.594 -167.053
L 404.604 -165.965
L 403.615 -164.878
L 402.625 -163.791
L 401.635 -162.704
L 400.645 -161.616
L 399.656 -160.528
L 398.666 -159.439
L 397.676 -158.349
L 396.687 -157.259
L 395.697 -156.167
L 394.707 -155.073
L 393.718 -153.978
L 392.728 -152.880
L 391.738 -151.778
L 390.748 -150.670
L 389.759 -149.556
L 388.769 -148.435
L 387.779 -147.304
L 386.790 -146.162
L 385.800 -145.009
L 384.810 -143.843
L 383.821 -142.663
L 382.831 -141.467
L 381.841 -140.254
L 380.851 -139.025
L 379.862 -137.783
L 378.872 -136.527
L 377.882 -135.253
L 376.893 -133.955
L 375.903 -132.628
L 374.913 -131.271
L 373.924 -129.881
L 372.934 -128.457
L 371.944 -126.999
L 370.955 -125.508
L 369.965 -123.985
L 368.975 -122.434
L 367.985 -120.850
L 366.996 -119.221
L 366.006 -117.535
L 365.016 -115.774
L 364.027 -113.922
L 363.037 -111.963
L 362.047 -109.905
L 361.058 -107.754
L 360.068 -105.518
L 359.078 -103.203
L 358.088 -100.815
L 357.099 -98.299
L 356.109 -95.580
L 355.119 -92.595
L 354.130 -89.298
L 353.140 -85.612
L 352.150 -81.381
L 351.161 -76.468
L 350.171 -71.195
L 349.181 -65.738
L 348.192 -59.911
z
" style="stroke: #008000; stroke-opacity: 0.2"/>
</defs>
<g clip-path="url(#pda94e3d83f)">
<use href="#m7137239ef6" x="0" y="288" style="fill: #008000; fill-opacity: 0.2; stroke: #008000; stroke-opacity: 0.2"/>
</g>
</g>
<g id="FillBetweenPolyCollection_4">
<defs>
<path id="m23a273234a" d="M 348.192 -59.835
L 348.192 -59.04
L 349.181 -60.079
L 350.171 -61.063
L 351.161 -61.984
L 352.150 -62.838
L 353.140 -63.622
L 354.130 -64.354
L 355.119 -65.036
L 356.109 -65.663
L 357.099 -66.228
L 358.088 -66.753
L 359.078 -67.263
L 360.068 -67.755
L 361.058 -68.227
L 362.047 -68.676
L 363.037 -69.100
L 364.027 -69.494
L 365.016 -69.857
L 366.006 -70.194
L 366.996 -70.505
L 367.985 -70.797
L 368.975 -71.088
L 369.965 -71.374
L 370.955 -71.651
L 371.944 -71.918
L 372.934 -72.173
L 373.924 -72.413
L 374.913 -72.637
L 375.903 -72.845
L 376.893 -73.037
L 377.882 -73.213
L 378.872 -73.374
L 379.862 -73.521
L 380.851 -73.657
L 381.841 -73.778
L 382.831 -73.875
L 383.821 -73.960
L 384.810 -74.034
L 385.800 -74.097
L 386.790 -74.150
L 387.779 -74.192
L 388.769 -74.226
L 389.759 -74.251
L 390.748 -74.268
L 391.738 -74.277
L 392.728 -74.279
L 393.718 -74.274
L 394.707 -74.264
L 395.697 -74.248
L 396.687 -74.227
L 397.676 -74.201
L 398.666 -74.172
L 399.656 -74.140
L 400.645 -74.105
L 401.635 -74.068
L 402.625 -74.029
L 403.615 -73.989
L 404.604 -73.948
L 405.594 -73.907
L 406.584 -73.864
L 407.573 -73.821
L 408.563 -73.777
L 409.553 -73.733
L 410.542 -73.687
L 411.532 -73.641
L 412.522 -73.595
L 413.511 -73.547
L 414.501 -73.499
L 415.491 -73.450
L 416.481 -73.401
L 417.470 -73.351
L 418.460 -73.300
L 419.450 -73.249
L 420.439 -73.197
L 421.429 -73.144
L 422.419 -73.091
L 423.408 -73.037
L 424.398 -72.983
L 425.388 -72.928
L 426.378 -72.873
L 427.367 -72.816
L 428.357 -72.760
L 429.347 -72.703
L 430.336 -72.645
L 431.326 -72.587
L 432.316 -72.528
L 433.305 -72.469
L 434.295 -72.409
L 435.285 -72.349
L 436.274 -72.289
L 437.264 -72.228
L 438.254 -72.166
L 439.244 -72.104
L 440.233 -72.042
L 441.223 -71.979
L 442.213 -71.916
L 443.202 -71.852
L 444.192 -71.788
L 445.182 -71.724
L 446.171 -71.660
L 447.161 -71.594
L 448.151 -71.529
L 449.141 -71.463
L 450.130 -71.397
L 451.120 -71.331
L 452.110 -71.264
L 453.099 -71.198
L 454.089 -71.130
L 455.079 -71.063
L 456.068 -70.995
L 457.058 -70.927
L 458.048 -70.859
L 459.038 -70.790
L 460.027 -70.722
L 461.017 -70.653
L 462.007 -70.584
L 462.996 -70.515
L 463.986 -70.445
L 464.976 -70.375
L 465.965 -70.306
L 466.955 -70.236
L 467.945 -70.166
L 468.934 -70.095
L 469.924 -70.025
L 470.914 -69.955
L 471.904 -69.884
L 472.893 -69.813
L 473.883 -69.743
L 474.873 -69.672
L 475.862 -69.601
L 476.852 -69.530
L 477.842 -69.459
L 478.831 -69.388
L 479.821 -69.317
L 480.811 -69.246
L 481.801 -69.175
L 482.790 -69.104
L 483.780 -69.033
L 484.770 -68.962
L 485.759 -68.891
L 486.749 -68.820
L 487.739 -68.749
L 488.728 -68.679
L 489.718 -68.608
L 490.708 -68.537
L 491.697 -68.467
L 492.687 -68.397
L 493.677 -68.326
L 494.667 -68.256
L 495.656 -68.186
L 496.646 -68.117
L 497.636 -68.047
L 498.625 -67.977
L 499.615 -67.908
L 500.605 -67.839
L 501.594 -67.770
L 502.584 -67.701
L 503.574 -67.633
L 504.564 -67.565
L 505.553 -67.496
L 506.543 -67.429
L 507.533 -67.361
L 508.522 -67.294
L 509.512 -67.227
L 510.502 -67.160
L 511.491 -67.094
L 512.481 -67.028
L 513.471 -66.962
L 514.461 -66.897
L 515.450 -66.832
L 516.440 -66.767
L 517.430 -66.703
L 518.419 -66.639
L 519.409 -66.575
L 520.399 -66.512
L 521.388 -66.449
L 522.378 -66.387
L 523.368 -66.325
L 524.357 -66.263
L 525.347 -66.202
L 526.337 -66.141
L 527.327 -66.081
L 528.316 -66.021
L 529.306 -65.962
L 530.296 -65.903
L 531.285 -65.845
L 532.275 -65.787
L 533.265 -65.730
L 534.254 -65.674
L 535.244 -65.617
L 536.234 -65.562
L 537.224 -65.507
L 538.213 -65.452
L 539.203 -65.398
L 540.193 -65.345
L 541.182 -65.292
L 542.172 -65.240
L 543.162 -65.189
L 544.151 -65.138
L 545.141 -65.088
L 546.131 -65.038
L 547.120 -64.990
L 548.110 -64.941
L 549.100 -64.894
L 550.090 -64.847
L 551.079 -64.801
L 552.069 -64.756
L 553.059 -64.711
L 554.048 -64.667
L 555.038 -64.624
L 556.028 -64.581
L 557.017 -64.540
L 558.007 -64.499
L 558.997 -64.459
L 559.987 -64.419
L 560.976 -64.381
L 561.966 -64.343
L 562.956 -64.306
L 563.945 -64.270
L 564.935 -64.235
L 564.935 -100.269
L 564.935 -100.269
L 563.945 -100.379
L 562.956 -100.488
L 561.966 -100.597
L 560.976 -100.706
L 559.987 -100.815
L 558.997 -100.923
L 558.007 -101.031
L 557.017 -101.139
L 556.028 -101.246
L 555.038 -101.353
L 554.048 -101.460
L 553.059 -101.567
L 552.069 -101.674
L 551.079 -101.780
L 550.090 -101.886
L 549.100 -101.992
L 548.110 -102.098
L 547.120 -102.204
L 546.131 -102.309
L 545.141 -102.414
L 544.151 -102.520
L 543.162 -102.625
L 542.172 -102.729
L 541.182 -102.834
L 540.193 -102.939
L 539.203 -103.044
L 538.213 -103.148
L 537.224 -103.253
L 536.234 -103.357
L 535.244 -103.461
L 534.254 -103.566
L 533.265 -103.670
L 532.275 -103.774
L 531.285 -103.878
L 530.296 -103.982
L 529.306 -104.086
L 528.316 -104.191
L 527.327 -104.295
L 526.337 -104.399
L 525.347 -104.503
L 524.357 -104.607
L 523.368 -104.712
L 522.378 -104.816
L 521.388 -104.921
L 520.399 -105.025
L 519.409 -105.130
L 518.419 -105.234
L 517.430 -105.339
L 516.440 -105.444
L 515.450 -105.549
L 514.461 -105.654
L 513.471 -105.760
L 512.481 -105.865
L 511.491 -105.971
L 510.502 -106.076
L 509.512 -106.182
L 508.522 -106.288
L 507.533 -106.395
L 506.543 -106.501
L 505.553 -106.608
L 504.564 -106.715
L 503.574 -106.822
L 502.584 -106.929
L 501.594 -107.037
L 500.605 -107.145
L 499.615 -107.253
L 498.625 -107.361
L 497.636 -107.470
L 496.646 -107.579
L 495.656 -107.688
L 494.667 -107.798
L 493.677 -107.907
L 492.687 -108.017
L 491.697 -108.128
L 490.708 -108.238
L 489.718 -108.349
L 488.728 -108.461
L 487.739 -108.572
L 486.749 -108.684
L 485.759 -108.796
L 484.770 -108.909
L 483.780 -109.021
L 482.790 -109.135
L 481.801 -109.248
L 480.811 -109.362
L 479.821 -109.476
L 478.831 -109.591
L 477.842 -109.706
L 476.852 -109.821
L 475.862 -109.937
L 474.873 -110.053
L 473.883 -110.169
L 472.893 -110.286
L 471.904 -110.404
L 470.914 -110.523
L 469.924 -110.644
L 468.934 -110.766
L 467.945 -110.889
L 466.955 -111.015
L 465.965 -111.143
L 464.976 -111.273
L 463.986 -111.405
L 462.996 -111.541
L 462.007 -111.679
L 461.017 -111.821
L 460.027 -111.966
L 459.038 -112.114
L 458.048 -112.267
L 457.058 -112.423
L 456.068 -112.584
L 455.079 -112.749
L 454.089 -112.919
L 453.099 -113.094
L 452.110 -113.274
L 451.120 -113.459
L 450.130 -113.649
L 449.141 -113.846
L 448.151 -114.048
L 447.161 -114.257
L 446.171 -114.472
L 445.182 -114.693
L 444.192 -114.921
L 443.202 -115.157
L 442.213 -115.400
L 441.223 -115.661
L 440.233 -115.959
L 439.244 -116.311
L 438.254 -116.737
L 437.264 -117.253
L 436.274 -117.879
L 435.285 -118.625
L 434.295 -119.477
L 433.305 -120.414
L 432.316 -121.414
L 431.326 -122.458
L 430.336 -123.525
L 429.347 -124.595
L 428.357 -125.646
L 427.367 -126.662
L 426.378 -127.641
L 425.388 -128.584
L 424.398 -129.489
L 423.408 -130.360
L 422.419 -131.194
L 421.429 -131.995
L 420.439 -132.761
L 419.450 -133.493
L 418.460 -134.193
L 417.470 -134.860
L 416.481 -135.495
L 415.491 -136.099
L 414.501 -136.672
L 413.511 -137.215
L 412.522 -137.728
L 411.532 -138.211
L 410.542 -138.666
L 409.553 -139.094
L 408.563 -139.493
L 407.573 -139.866
L 406.584 -140.212
L 405.594 -140.531
L 404.604 -140.824
L 403.615 -141.088
L 402.625 -141.323
L 401.635 -141.528
L 400.645 -141.701
L 399.656 -141.842
L 398.666 -141.950
L 397.676 -142.024
L 396.687 -142.063
L 395.697 -142.065
L 394.707 -142.030
L 393.718 -141.957
L 392.728 -141.844
L 391.738 -141.692
L 390.748 -141.498
L 389.759 -141.262
L 388.769 -140.983
L 387.779 -140.659
L 386.790 -140.290
L 385.800 -139.875
L 384.810 -139.413
L 383.821 -138.903
L 382.831 -138.343
L 381.841 -137.733
L 380.851 -137.078
L 379.862 -136.369
L 378.872 -135.608
L 377.882 -134.799
L 376.893 -133.939
L 375.903 -133.019
L 374.913 -132.039
L 373.924 -130.998
L 372.934 -129.900
L 371.944 -128.747
L 370.955 -127.546
L 369.965 -126.294
L 368.975 -124.975
L 367.985 -123.590
L 366.996 -122.140
L 366.006 -120.622
L 365.016 -119.036
L 364.027 -117.378
L 363.037 -115.654
L 362.047 -113.872
L 361.058 -112.009
L 360.068 -110.042
L 359.078 -107.945
L 358.088 -105.695
L 357.099 -103.267
L 356.109 -100.584
L 355.119 -97.501
L 354.130 -93.883
L 353.140 -89.278
L 352.150 -83.915
L 351.161 -77.858
L 350.171 -71.392
L 349.181 -65.463
L 348.192 -59.835
z
" style="stroke: #ffa500; stroke-opacity: 0.2"/>
</defs>
<g clip-path="url(#pda94e3d83f)">
<use href="#m23a273234a" x="0" y="288" style="fill: #ffa500; fill-opacity: 0.2; stroke: #ffa500; stroke-opacity: 0.2"/>
</g>
</g>
<g id="FillBetweenPolyCollection_5">
<defs>
<path id="m19abc6e27f" d="M 347.76 -62.64
L 347.76 -59.4
L 348.751 -59.599
L 349.743 -59.796
L 350.735 -59.992
L 351.726 -60.186
L 352.718 -60.378
L 353.710 -60.568
L 354.701 -60.755
L 355.693 -60.940
L 356.685 -61.121
L 357.676 -61.300
L 358.668 -61.478
L 359.660 -61.657
L 360.651 -61.835
L 361.643 -62.012
L 362.635 -62.188
L 363.626 -62.363
L 364.618 -62.533
L 365.610 -62.700
L 366.601 -62.863
L 367.593 -63.022
L 368.585 -63.177
L 369.576 -63.328
L 370.568 -63.474
L 371.560 -63.617
L 372.551 -63.756
L 373.543 -63.891
L 374.535 -64.024
L 375.526 -64.154
L 376.518 -64.283
L 377.510 -64.411
L 378.501 -64.537
L 379.493 -64.662
L 380.485 -64.784
L 381.476 -64.905
L 382.468 -65.030
L 383.460 -65.153
L 384.451 -65.275
L 385.443 -65.395
L 386.435 -65.513
L 387.426 -65.629
L 388.418 -65.744
L 389.410 -65.857
L 390.401 -65.968
L 391.393 -66.077
L 392.385 -66.185
L 393.376 -66.291
L 394.368 -66.396
L 395.360 -66.499
L 396.351 -66.600
L 397.343 -66.699
L 398.335 -66.797
L 399.326 -66.894
L 400.318 -66.989
L 401.310 -67.082
L 402.301 -67.174
L 403.293 -67.264
L 404.285 -67.353
L 405.276 -67.440
L 406.268 -67.526
L 407.260 -67.610
L 408.251 -67.693
L 409.243 -67.774
L 410.235 -67.854
L 411.226 -67.933
L 412.218 -68.010
L 413.210 -68.086
L 414.201 -68.161
L 415.193 -68.234
L 416.185 -68.306
L 417.176 -68.376
L 418.168 -68.446
L 419.160 -68.514
L 420.151 -68.580
L 421.143 -68.646
L 422.135 -68.710
L 423.126 -68.773
L 424.118 -68.835
L 425.110 -68.895
L 426.101 -68.955
L 427.093 -69.013
L 428.085 -69.070
L 429.076 -69.126
L 430.068 -69.181
L 431.060 -69.235
L 432.051 -69.288
L 433.043 -69.339
L 434.035 -69.390
L 435.026 -69.440
L 436.018 -69.488
L 437.010 -69.536
L 438.001 -69.582
L 438.993 -69.628
L 439.985 -69.672
L 440.976 -69.716
L 441.968 -69.759
L 442.960 -69.800
L 443.951 -69.841
L 444.943 -69.881
L 445.935 -69.920
L 446.926 -69.959
L 447.918 -69.996
L 448.910 -70.032
L 449.901 -70.068
L 450.893 -70.103
L 451.885 -70.137
L 452.876 -70.171
L 453.868 -70.203
L 454.860 -70.235
L 455.851 -70.266
L 456.843 -70.297
L 457.835 -70.327
L 458.826 -70.356
L 459.818 -70.384
L 460.810 -70.412
L 461.801 -70.439
L 462.793 -70.465
L 463.785 -70.491
L 464.776 -70.517
L 465.768 -70.541
L 466.760 -70.565
L 467.751 -70.589
L 468.743 -70.612
L 469.735 -70.635
L 470.726 -70.657
L 471.718 -70.678
L 472.710 -70.699
L 473.701 -70.720
L 474.693 -70.740
L 475.685 -70.760
L 476.676 -70.779
L 477.668 -70.798
L 478.660 -70.817
L 479.651 -70.835
L 480.643 -70.853
L 481.635 -70.870
L 482.626 -70.888
L 483.618 -70.904
L 484.610 -70.921
L 485.601 -70.937
L 486.593 -70.953
L 487.585 -70.969
L 488.577 -70.985
L 489.568 -71.000
L 490.560 -71.015
L 491.552 -71.030
L 492.543 -71.045
L 493.535 -71.059
L 494.527 -71.074
L 495.518 -71.088
L 496.510 -71.103
L 497.502 -71.117
L 498.493 -71.131
L 499.485 -71.145
L 500.477 -71.159
L 501.468 -71.172
L 502.460 -71.186
L 503.452 -71.200
L 504.443 -71.214
L 505.435 -71.228
L 506.427 -71.242
L 507.418 -71.256
L 508.410 -71.270
L 509.402 -71.284
L 510.393 -71.298
L 511.385 -71.312
L 512.377 -71.327
L 513.368 -71.341
L 514.360 -71.356
L 515.352 -71.371
L 516.343 -71.386
L 517.335 -71.401
L 518.327 -71.417
L 519.318 -71.433
L 520.310 -71.449
L 521.302 -71.465
L 522.293 -71.481
L 523.285 -71.498
L 524.277 -71.515
L 525.268 -71.533
L 526.260 -71.550
L 527.252 -71.568
L 528.243 -71.587
L 529.235 -71.606
L 530.227 -71.625
L 531.218 -71.645
L 532.210 -71.665
L 533.202 -71.685
L 534.193 -71.706
L 535.185 -71.728
L 536.177 -71.750
L 537.168 -71.772
L 538.160 -71.795
L 539.152 -71.818
L 540.143 -71.842
L 541.135 -71.867
L 542.127 -71.892
L 543.118 -71.918
L 544.110 -71.944
L 545.102 -71.971
L 546.093 -71.998
L 547.085 -72.027
L 548.077 -72.056
L 549.068 -72.085
L 550.060 -72.115
L 551.052 -72.146
L 552.043 -72.178
L 553.035 -72.210
L 554.027 -72.244
L 555.018 -72.278
L 556.010 -72.312
L 557.002 -72.348
L 557.993 -72.384
L 558.985 -72.421
L 559.977 -72.459
L 560.968 -72.498
L 561.960 -72.538
L 562.952 -72.578
L 563.943 -72.620
L 564.935 -72.662
L 564.935 -149.900
L 564.935 -149.900
L 563.943 -149.653
L 562.952 -149.406
L 561.960 -149.161
L 560.968 -148.918
L 559.977 -148.675
L 558.985 -148.433
L 557.993 -148.192
L 557.002 -147.953
L 556.010 -147.714
L 555.018 -147.476
L 554.027 -147.239
L 553.035 -147.003
L 552.043 -146.768
L 551.052 -146.534
L 550.060 -146.300
L 549.068 -146.067
L 548.077 -145.835
L 547.085 -145.604
L 546.093 -145.373
L 545.102 -145.143
L 544.110 -144.913
L 543.118 -144.684
L 542.127 -144.456
L 541.135 -144.228
L 540.143 -144.000
L 539.152 -143.773
L 538.160 -143.547
L 537.168 -143.320
L 536.177 -143.094
L 535.185 -142.869
L 534.193 -142.644
L 533.202 -142.419
L 532.210 -142.194
L 531.218 -141.969
L 530.227 -141.745
L 529.235 -141.520
L 528.243 -141.296
L 527.252 -141.072
L 526.260 -140.848
L 525.268 -140.624
L 524.277 -140.399
L 523.285 -140.175
L 522.293 -139.951
L 521.302 -139.727
L 520.310 -139.502
L 519.318 -139.277
L 518.327 -139.052
L 517.335 -138.827
L 516.343 -138.602
L 515.352 -138.376
L 514.360 -138.150
L 513.368 -137.923
L 512.377 -137.696
L 511.385 -137.469
L 510.393 -137.241
L 509.402 -137.013
L 508.410 -136.784
L 507.418 -136.555
L 506.427 -136.325
L 505.435 -136.094
L 504.443 -135.863
L 503.452 -135.631
L 502.460 -135.398
L 501.468 -135.165
L 500.477 -134.931
L 499.485 -134.696
L 498.493 -134.460
L 497.502 -134.223
L 496.510 -133.986
L 495.518 -133.747
L 494.527 -133.508
L 493.535 -133.268
L 492.543 -133.026
L 491.552 -132.784
L 490.560 -132.540
L 489.568 -132.295
L 488.577 -132.050
L 487.585 -131.803
L 486.593 -131.554
L 485.601 -131.305
L 484.610 -131.054
L 483.618 -130.802
L 482.626 -130.549
L 481.635 -130.294
L 480.643 -130.038
L 479.651 -129.780
L 478.660 -129.521
L 477.668 -129.261
L 476.676 -128.999
L 475.685 -128.735
L 474.693 -128.470
L 473.701 -128.203
L 472.710 -127.935
L 471.718 -127.665
L 470.726 -127.393
L 469.735 -127.120
L 468.743 -126.844
L 467.751 -126.567
L 466.760 -126.288
L 465.768 -126.008
L 464.776 -125.725
L 463.785 -125.440
L 462.793 -125.154
L 461.801 -124.865
L 460.810 -124.575
L 459.818 -124.282
L 458.826 -123.987
L 457.835 -123.690
L 456.843 -123.391
L 455.851 -123.090
L 454.860 -122.787
L 453.868 -122.481
L 452.876 -122.174
L 451.885 -121.864
L 450.893 -121.551
L 449.901 -121.236
L 448.910 -120.919
L 447.918 -120.599
L 446.926 -120.277
L 445.935 -119.953
L 444.943 -119.626
L 443.951 -119.296
L 442.960 -118.964
L 441.968 -118.629
L 440.976 -118.292
L 439.985 -117.951
L 438.993 -117.609
L 438.001 -117.263
L 437.010 -116.915
L 436.018 -116.564
L 435.026 -116.210
L 434.035 -115.853
L 433.043 -115.493
L 432.051 -115.130
L 431.060 -114.765
L 430.068 -114.396
L 429.076 -114.025
L 428.085 -113.650
L 427.093 -113.272
L 426.101 -112.891
L 425.110 -112.507
L 424.118 -112.119
L 423.126 -111.728
L 422.135 -111.334
L 421.143 -110.937
L 420.151 -110.536
L 419.160 -110.132
L 418.168 -109.724
L 417.176 -109.313
L 416.185 -108.898
L 415.193 -108.480
L 414.201 -108.058
L 413.210 -107.632
L 412.218 -107.203
L 411.226 -106.770
L 410.235 -106.333
L 409.243 -105.893
L 408.251 -105.448
L 407.260 -105.000
L 406.268 -104.548
L 405.276 -104.091
L 404.285 -103.631
L 403.293 -103.167
L 402.301 -102.699
L 401.310 -102.227
L 400.318 -101.750
L 399.326 -101.269
L 398.335 -100.785
L 397.343 -100.295
L 396.351 -99.802
L 395.360 -99.304
L 394.368 -98.802
L 393.376 -98.296
L 392.385 -97.785
L 391.393 -97.269
L 390.401 -96.749
L 389.410 -96.225
L 388.418 -95.696
L 387.426 -95.162
L 386.435 -94.624
L 385.443 -94.080
L 384.451 -93.533
L 383.460 -92.980
L 382.468 -92.422
L 381.476 -91.859
L 380.485 -91.285
L 379.493 -90.705
L 378.501 -90.119
L 377.510 -89.529
L 376.518 -88.932
L 375.526 -88.330
L 374.535 -87.721
L 373.543 -87.106
L 372.551 -86.484
L 371.560 -85.854
L 370.568 -85.216
L 369.576 -84.569
L 368.585 -83.912
L 367.593 -83.246
L 366.601 -82.572
L 365.610 -81.885
L 364.618 -81.185
L 363.626 -80.470
L 362.635 -79.755
L 361.643 -79.022
L 360.651 -78.268
L 359.660 -77.491
L 358.668 -76.698
L 357.676 -75.882
L 356.685 -75.032
L 355.693 -74.136
L 354.701 -73.185
L 353.710 -72.172
L 352.718 -71.099
L 351.726 -69.910
L 350.735 -68.542
L 349.743 -66.881
L 348.751 -64.883
L 347.76 -62.64
z
" style="stroke: #0000ff; stroke-opacity: 0.2"/>
</defs>
<g clip-path="url(#pda94e3d83f)">
<use href="#m19abc6e27f" x="0" y="288" style="fill: #0000ff; fill-opacity: 0.2; stroke: #0000ff; stroke-opacity: 0.2"/>
</g>
</g>
<g id="matplotlib.axis_3">
<g id="xtick_5">
<g id="line2d_35">
<g>
<use href="#m7a11be87dc" x="348.12" y="243.72" style="stroke: #000000; stroke-width: 0.8"/>
</g>
</g>
<g id="tx157"><text transform="translate(344.88 257.76)" style="font-family: 'DejaVu Sans', 'Liberation Sans', sans-serif"><tspan x="0" y="0" style="font-size: 10px">0</tspan></text></g>
</g>
<g id="xtick_6">
<g id="line2d_36">
<g>
<use href="#m7a11be87dc" x="409.32" y="243.72" style="stroke: #000000; stroke-width: 0.8"/>
</g>
</g>
<g id="tx159"><text transform="translate(406.8 257.76)" style="font-family: 'DejaVu Sans', 'Liberation Sans', sans-serif"><tspan x="-0.72" y="0" style="font-size: 10px">5</tspan></text></g>
</g>
<g id="xtick_7">
<g id="line2d_37">
<g>
<use href="#m7a11be87dc" x="470.52" y="243.72" style="stroke: #000000; stroke-width: 0.8"/>
</g>
</g>
<g id="tx161"><text transform="translate(464.4 257.76)" style="font-family: 'DejaVu Sans', 'Liberation Sans', sans-serif"><tspan x="-0.72 4.95" y="0" style="font-size: 10px">10</tspan></text></g>
</g>
<g id="xtick_8">
<g id="line2d_38">
<g>
<use href="#m7a11be87dc" x="531.72" y="243.72" style="stroke: #000000; stroke-width: 0.8"/>
</g>
</g>
<g id="tx163"><text transform="translate(525.6 257.76)" style="font-family: 'DejaVu Sans', 'Liberation Sans', sans-serif"><tspan x="-0.72 4.95" y="0" style="font-size: 10px">15</tspan></text></g>
</g>
<g id="tx153"><text transform="translate(437.76 264.96)" style="font-family: 'DejaVu Sans', 'Liberation Sans', sans-serif"><tspan x="0.72" y="8.64" style="font-size: 10px; font-style: oblique">r</tspan><tspan x="4.32 7.92 11.52 17.28 23.76 28.8" y="8.64" style="font-size: 10px"> (kpc)</tspan></text></g>
</g>
<g id="matplotlib.axis_4">
<g id="ytick_28">
<g id="line2d_39">
<g>
<use href="#m886c599e26" x="343.8" y="228.6" style="stroke: #000000; stroke-width: 0.8"/>
</g>
</g>
<g id="tx171"><text transform="translate(330.48 231.84)" style="font-family: 'DejaVu Sans', 'Liberation Sans', sans-serif"><tspan x="0" y="0" style="font-size: 10px">0</tspan></text></g>
</g>
<g id="ytick_29">
<g id="line2d_40">
<g>
<use href="#m886c599e26" x="343.8" y="198.36" style="stroke: #000000; stroke-width: 0.8"/>
</g>
</g>
<g id="tx173"><text transform="translate(324.72 202.32)" style="font-family: 'DejaVu Sans', 'Liberation Sans', sans-serif"><tspan x="-0.72 5.58" y="0" style="font-size: 10px">20</tspan></text></g>
</g>
<g id="ytick_30">
<g id="line2d_41">
<g>
<use href="#m886c599e26" x="343.8" y="168.84" style="stroke: #000000; stroke-width: 0.8"/>
</g>
</g>
<g id="tx175"><text transform="translate(324 172.08)" style="font-family: 'DejaVu Sans', 'Liberation Sans', sans-serif"><tspan x="0 5.58" y="0" style="font-size: 10px">40</tspan></text></g>
</g>
<g id="ytick_31">
<g id="line2d_42">
<g>
<use href="#m886c599e26" x="343.8" y="138.6" style="stroke: #000000; stroke-width: 0.8"/>
</g>
</g>
<g id="tx177"><text transform="translate(324.72 142.56)" style="font-family: 'DejaVu Sans', 'Liberation Sans', sans-serif"><tspan x="-0.72 5.67" y="0" style="font-size: 10px">60</tspan></text></g>
</g>
<g id="ytick_32">
<g id="line2d_43">
<g>
<use href="#m886c599e26" x="343.8" y="109.08" style="stroke: #000000; stroke-width: 0.8"/>
</g>
</g>
<g id="tx179"><text transform="translate(324.72 112.32)" style="font-family: 'DejaVu Sans', 'Liberation Sans', sans-serif"><tspan x="-0.72 5.67" y="0" style="font-size: 10px">80</tspan></text></g>
</g>
<g id="ytick_33">
<g id="line2d_44">
<g>
<use href="#m886c599e26" x="343.8" y="78.84" style="stroke: #000000; stroke-width: 0.8"/>
</g>
</g>
<g id="tx181"><text transform="translate(318.24 82.8)" style="font-family: 'DejaVu Sans', 'Liberation Sans', sans-serif"><tspan x="-0.72 4.95 11.25" y="0" style="font-size: 10px">100</tspan></text></g>
</g>
<g id="ytick_34">
<g id="line2d_45">
<g>
<use href="#m886c599e26" x="343.8" y="49.32" style="stroke: #000000; stroke-width: 0.8"/>
</g>
</g>
<g id="tx183"><text transform="translate(318.24 52.56)" style="font-family: 'DejaVu Sans', 'Liberation Sans', sans-serif"><tspan x="-0.72 4.95 11.25" y="0" style="font-size: 10px">120</tspan></text></g>
</g>
<g id="tx167"><text transform="translate(300.24 180.72) rotate(-90)" style="font-family: 'DejaVu Sans', 'Liberation Sans', sans-serif"><tspan x="0.72" y="8.64" style="font-size: 10px; font-style: oblique">v</tspan><tspan x="6.48" y="8.64" style="font-size: 10px">(</tspan><tspan x="10.08" y="8.64" style="font-size: 10px; font-style: oblique">r</tspan><tspan x="14.4 18 21.6 25.2 30.96 41.04 43.92 49.68 53.28 56.16 62.64 69.12 74.88 79.2 85.68 88.56" y="8.64" style="font-size: 10px">) (km/s) deproj.</tspan></text></g>
</g>
<g id="line2d_46">
<path d="M 348.192 227.457 L 350.171 212.695 L 351.161 205.058 L 352.150 199.435 L 353.140 195.219 L 355.119 188.086 L 357.099 181.917 L 359.078 176.441 L 361.058 171.686 L 363.037 167.579 L 365.016 163.898 L 367.985 158.961 L 370.955 154.612 L 373.924 150.675 L 379.862 143.271 L 384.810 137.417 L 392.728 128.462 L 413.511 105.325 L 424.398 93.552 L 432.316 85.303 L 438.254 79.414 L 443.202 74.771 L 448.151 70.421 L 453.099 66.369 L 459.038 61.821 L 465.965 56.808 L 478.831 47.850 L 492.687 38.474 L 505.553 30.024 L 518.419 21.829 L 531.285 13.896 L 544.151 6.233 L 556.746 -1 L 556.746 -1" clip-path="url(#pda94e3d83f)" style="fill: none; stroke: #ff0000; stroke-linecap: square"/>
</g>
<g id="line2d_47">
<path d="M 348.192 228.96 L 349.181 228.156 L 354.130 213.853 L 356.109 208.284 L 358.088 203.668 L 361.058 197.731 L 370.955 179.197 L 374.913 172.397 L 377.882 167.703 L 380.851 163.382 L 383.821 159.354 L 386.790 155.664 L 389.759 152.343 L 392.728 149.403 L 395.697 146.835 L 398.666 144.628 L 401.635 142.773 L 404.604 141.256 L 407.573 140.054 L 410.542 139.123 L 413.511 138.421 L 417.470 137.768 L 421.429 137.347 L 428.357 136.873 L 438.254 136.419 L 450.130 136.107 L 463.986 135.955 L 479.821 136.001 L 499.615 136.287 L 564.935 137.454 L 564.935 137.454" clip-path="url(#pda94e3d83f)" style="fill: none; stroke: #ff0000; stroke-linecap: square"/>
</g>
<g id="line2d_48">
<path d="M 348.192 228.6 L 349.181 228.6 L 351.161 222.827 L 354.130 214.443 L 357.099 206.326 L 359.078 202.475 L 362.047 197.530 L 369.965 185.376 L 373.924 179.735 L 377.882 174.443 L 383.821 166.948 L 393.718 154.747 L 401.635 145.310 L 408.563 137.365 L 415.491 129.778 L 421.429 123.620 L 426.378 118.772 L 431.326 114.215 L 436.274 109.982 L 440.233 106.849 L 444.192 103.958 L 448.151 101.306 L 453.099 98.279 L 458.048 95.511 L 463.986 92.441 L 469.924 89.595 L 475.862 86.967 L 481.801 84.553 L 487.739 82.350 L 493.677 80.352 L 499.615 78.557 L 506.543 76.712 L 513.471 75.116 L 521.388 73.550 L 530.296 72.045 L 541.182 70.459 L 564.935 67.258 L 564.935 67.258" clip-path="url(#pda94e3d83f)" style="fill: none; stroke: #008000; stroke-width: 1.5; stroke-linecap: square"/>
</g>
<g id="line2d_49">
<path d="M 348.192 228.6 L 349.181 228.6 L 351.161 223.323 L 353.140 218.185 L 356.109 210.094 L 357.099 207.761 L 358.088 205.959 L 361.058 201.491 L 365.016 196.115 L 370.955 188.503 L 378.872 178.684 L 386.790 169.251 L 393.718 161.353 L 400.645 153.816 L 407.573 146.649 L 413.511 140.812 L 419.450 135.263 L 425.388 130.011 L 431.326 125.060 L 437.264 120.397 L 443.202 116.010 L 449.141 111.887 L 455.079 108.013 L 461.017 104.376 L 467.945 100.415 L 474.873 96.738 L 481.801 93.324 L 488.728 90.153 L 495.656 87.205 L 502.584 84.478 L 509.512 81.973 L 516.440 79.691 L 523.368 77.635 L 530.296 75.806 L 537.224 74.206 L 544.151 72.835 L 551.079 71.697 L 558.007 70.792 L 564.935 70.122 L 564.935 70.122" clip-path="url(#pda94e3d83f)" style="fill: none; stroke-dasharray: 5.55,2.4; stroke-dashoffset: 0; stroke: #008000; stroke-width: 1.5"/>
</g>
<g id="line2d_50">
<path d="M 348.192 228.6 L 349.181 228.6 L 351.161 223.811 L 353.140 219.181 L 356.109 212.134 L 357.099 210.271 L 358.088 208.956 L 360.068 206.935 L 362.047 205.270 L 366.006 202.401 L 367.985 201.226 L 370.955 199.788 L 372.934 199.040 L 375.903 198.198 L 379.862 197.314 L 385.800 196.240 L 390.748 195.605 L 395.697 195.207 L 400.645 195.017 L 406.584 195.024 L 413.511 195.293 L 421.429 195.853 L 434.295 197.049 L 511.491 204.423 L 541.182 207.003 L 564.935 208.867 L 564.935 208.867" clip-path="url(#pda94e3d83f)" style="fill: none; stroke: #ffa500; stroke-width: 1.5; stroke-linecap: square"/>
</g>
<g id="line2d_51">
<path d="M 348.192 228.6 L 349.181 228.6 L 350.171 225.844 L 357.099 209.195 L 358.088 207.645 L 360.068 205.116 L 362.047 202.831 L 364.027 200.827 L 366.006 199.055 L 367.985 197.564 L 369.965 196.312 L 372.934 194.858 L 375.903 193.702 L 378.872 192.824 L 381.841 192.117 L 385.800 191.463 L 389.759 191.048 L 395.697 190.694 L 401.635 190.548 L 408.563 190.601 L 416.481 190.906 L 425.388 191.485 L 437.264 192.499 L 452.110 193.989 L 470.914 196.111 L 524.357 202.293 L 539.203 203.711 L 552.069 204.724 L 563.945 205.437 L 564.935 205.486 L 564.935 205.486" clip-path="url(#pda94e3d83f)" style="fill: none; stroke-dasharray: 5.55,2.4; stroke-dashoffset: 0; stroke: #ffa500; stroke-width: 1.5"/>
</g>
<g id="line2d_52">
<path d="M 347.76 225.72 L 349.743 222.724 L 351.726 220.172 L 354.701 216.634 L 356.685 214.678 L 357.676 213.981 L 360.651 212.422 L 378.501 203.506 L 383.460 201.426 L 391.393 198.366 L 399.326 195.560 L 407.260 192.983 L 416.185 190.326 L 425.110 187.893 L 435.026 185.410 L 446.926 182.671 L 461.801 179.500 L 479.651 175.927 L 496.510 172.774 L 513.368 169.841 L 530.227 167.132 L 547.085 164.653 L 563.943 162.407 L 564.935 162.282 L 564.935 162.282" clip-path="url(#pda94e3d83f)" style="fill: none; stroke: #0000ff; stroke-width: 1.5; stroke-linecap: square"/>
</g>
<g id="line2d_53">
<path d="M 347.76 221.76 L 348.751 220.625 L 349.743 218.396 L 350.735 215.857 L 355.693 201.766 L 357.676 197.380 L 359.660 193.488 L 361.643 190.179 L 363.626 187.149 L 366.601 181.785 L 369.576 176.413 L 372.551 171.622 L 377.510 164.184 L 383.460 155.641 L 388.418 148.902 L 393.376 142.525 L 398.335 136.492 L 403.293 130.787 L 408.251 125.395 L 413.210 120.299 L 418.168 115.483 L 423.126 110.931 L 429.076 105.797 L 435.026 101.005 L 440.976 96.543 L 446.926 92.394 L 452.876 88.545 L 458.826 84.983 L 464.776 81.691 L 470.726 78.657 L 476.676 75.866 L 482.626 73.303 L 488.577 70.955 L 495.518 68.467 L 502.460 66.229 L 509.402 64.218 L 517.335 62.168 L 525.268 60.352 L 534.193 58.545 L 544.110 56.774 L 556.010 54.888 L 564.935 53.581 L 564.935 53.581" clip-path="url(#pda94e3d83f)" style="fill: none; stroke-dasharray: 1.5,2.475; stroke-dashoffset: 0; stroke: #000000; stroke-width: 1.5"/>
</g>
<g id="line2d_54">
<path d="M 348.192 228.6 L 349.181 228.170 L 353.140 214.846 L 356.109 205.505 L 357.099 202.731 L 359.078 198.370 L 361.058 194.573 L 372.934 173.613 L 377.882 165.797 L 382.831 158.421 L 387.779 151.497 L 392.728 144.990 L 397.676 138.870 L 402.625 133.107 L 407.573 127.673 L 412.522 122.537 L 417.470 117.681 L 422.419 113.094 L 427.367 108.767 L 432.316 104.691 L 437.264 100.856 L 443.202 96.561 L 449.141 92.584 L 455.079 88.911 L 461.017 85.525 L 466.955 82.409 L 472.893 79.550 L 478.831 76.929 L 484.770 74.533 L 491.697 71.998 L 498.625 69.721 L 505.553 67.677 L 513.471 65.593 L 521.388 63.741 L 530.296 61.890 L 540.193 60.059 L 553.059 57.914 L 564.935 56.044 L 564.935 56.044" clip-path="url(#pda94e3d83f)" style="fill: none; stroke: #000000; stroke-width: 1.5; stroke-linecap: square"/>
</g>
<g id="line2d_55">
<path d="M 348.192 228.003 L 355.119 205.486 L 357.099 199.492 L 359.078 194.909 L 361.058 191.003 L 363.037 187.471 L 365.016 184.289 L 367.985 179.932 L 371.944 174.463 L 380.851 162.711 L 386.790 155.171 L 392.728 147.958 L 398.666 141.074 L 404.604 134.525 L 410.542 128.315 L 416.481 122.448 L 422.419 116.932 L 427.367 112.616 L 432.316 108.569 L 437.264 104.805 L 442.213 101.336 L 447.161 98.175 L 451.120 95.877 L 455.079 93.792 L 459.038 91.925 L 462.996 90.282 L 468.934 88.118 L 477.842 84.947 L 481.801 83.331 L 487.739 80.587 L 494.667 77.415 L 499.615 75.450 L 504.564 73.731 L 510.502 71.939 L 516.440 70.377 L 524.357 68.538 L 549.100 62.991 L 558.007 60.997 L 563.945 59.890 L 564.935 59.731 L 564.935 59.731" clip-path="url(#pda94e3d83f)" style="fill: none; stroke: #ffc0cb; stroke-linecap: square"/>
</g>
<g id="line2d_56">
<g><path d="M 434.88 243.36 L 434.88 241.86" clip-path="url(#pda94e3d83f)" style="fill: none; stroke: #1f77b4; stroke-width: 1.5; stroke-linecap: butt"/><path d="M 434.88 239.385 L 434.88 237.885" clip-path="url(#pda94e3d83f)" style="fill: none; stroke: #1f77b4; stroke-width: 1.5; stroke-linecap: butt"/><path d="M 434.88 235.41 L 434.88 233.91" clip-path="url(#pda94e3d83f)" style="fill: none; stroke: #1f77b4; stroke-width: 1.5; stroke-linecap: butt"/><path d="M 434.88 231.435 L 434.88 229.935" clip-path="url(#pda94e3d83f)" style="fill: none; stroke: #1f77b4; stroke-width: 1.5; stroke-linecap: butt"/><path d="M 434.88 227.46 L 434.88 225.96" clip-path="url(#pda94e3d83f)" style="fill: none; stroke: #1f77b4; stroke-width: 1.5; stroke-linecap: butt"/><path d="M 434.88 223.485 L 434.88 221.985" clip-path="url(#pda94e3d83f)" style="fill: none; stroke: #1f77b4; stroke-width: 1.5; stroke-linecap: butt"/><path d="M 434.88 219.51 L 434.88 218.01" clip-path="url(#pda94e3d83f)" style="fill: none; stroke: #1f77b4; stroke-width: 1.5; stroke-linecap: butt"/><path d="M 434.88 215.535 L 434.88 214.035" clip-path="url(#pda94e3d83f)" style="fill: none; stroke: #1f77b4; stroke-width: 1.5; stroke-linecap: butt"/><path d="M 434.88 211.56 L 434.88 210.06" clip-path="url(#pda94e3d83f)" style="fill: none; stroke: #1f77b4; stroke-width: 1.5; stroke-linecap: butt"/><path d="M 434.88 207.585 L 434.88 206.085" clip-path="url(#pda94e3d83f)" style="fill: none; stroke: #1f77b4; stroke-width: 1.5; stroke-linecap: butt"/><path d="M 434.88 203.61 L 434.88 202.11" clip-path="url(#pda94e3d83f)" style="fill: none; stroke: #1f77b4; stroke-width: 1.5; stroke-linecap: butt"/><path d="M 434.88 199.635 L 434.88 198.135" clip-path="url(#pda94e3d83f)" style="fill: none; stroke: #1f77b4; stroke-width: 1.5; stroke-linecap: butt"/><path d="M 434.88 195.66 L 434.88 194.16" clip-path="url(#pda94e3d83f)" style="fill: none; stroke: #1f77b4; stroke-width: 1.5; stroke-linecap: butt"/><path d="M 434.88 191.685 L 434.88 190.185" clip-path="url(#pda94e3d83f)" style="fill: none; stroke: #1f77b4; stroke-width: 1.5; stroke-linecap: butt"/><path d="M 434.88 187.71 L 434.88 186.21" clip-path="url(#pda94e3d83f)" style="fill: none; stroke: #1f77b4; stroke-width: 1.5; stroke-linecap: butt"/><path d="M 434.88 183.735 L 434.88 182.235" clip-path="url(#pda94e3d83f)" style="fill: none; stroke: #1f77b4; stroke-width: 1.5; stroke-linecap: butt"/><path d="M 434.88 179.76 L 434.88 178.26" clip-path="url(#pda94e3d83f)" style="fill: none; stroke: #1f77b4; stroke-width: 1.5; stroke-linecap: butt"/><path d="M 434.88 175.785 L 434.88 174.285" clip-path="url(#pda94e3d83f)" style="fill: none; stroke: #1f77b4; stroke-width: 1.5; stroke-linecap: butt"/><path d="M 434.88 171.81 L 434.88 170.31" clip-path="url(#pda94e3d83f)" style="fill: none; stroke: #1f77b4; stroke-width: 1.5; stroke-linecap: butt"/><path d="M 434.88 167.835 L 434.88 166.335" clip-path="url(#pda94e3d83f)" style="fill: none; stroke: #1f77b4; stroke-width: 1.5; stroke-linecap: butt"/><path d="M 434.88 163.86 L 434.88 162.36" clip-path="url(#pda94e3d83f)" style="fill: none; stroke: #1f77b4; stroke-width: 1.5; stroke-linecap: butt"/><path d="M 434.88 159.885 L 434.88 158.385" clip-path="url(#pda94e3d83f)" style="fill: none; stroke: #1f77b4; stroke-width: 1.5; stroke-linecap: butt"/><path d="M 434.88 155.91 L 434.88 154.41" clip-path="url(#pda94e3d83f)" style="fill: none; stroke: #1f77b4; stroke-width: 1.5; stroke-linecap: butt"/><path d="M 434.88 151.935 L 434.88 150.435" clip-path="url(#pda94e3d83f)" style="fill: none; stroke: #1f77b4; stroke-width: 1.5; stroke-linecap: butt"/><path d="M 434.88 147.96 L 434.88 146.46" clip-path="url(#pda94e3d83f)" style="fill: none; stroke: #1f77b4; stroke-width: 1.5; stroke-linecap: butt"/><path d="M 434.88 143.985 L 434.88 142.485" clip-path="url(#pda94e3d83f)" style="fill: none; stroke: #1f77b4; stroke-width: 1.5; stroke-linecap: butt"/><path d="M 434.88 140.01 L 434.88 138.51" clip-path="url(#pda94e3d83f)" style="fill: none; stroke: #1f77b4; stroke-width: 1.5; stroke-linecap: butt"/><path d="M 434.88 136.035 L 434.88 134.535" clip-path="url(#pda94e3d83f)" style="fill: none; stroke: #1f77b4; stroke-width: 1.5; stroke-linecap: butt"/><path d="M 434.88 132.06 L 434.88 130.56" clip-path="url(#pda94e3d83f)" style="fill: none; stroke: #1f77b4; stroke-width: 1.5; stroke-linecap: butt"/><path d="M 434.88 128.085 L 434.88 126.585" clip-path="url(#pda94e3d83f)" style="fill: none; stroke: #1f77b4; stroke-width: 1.5; stroke-linecap: butt"/><path d="M 434.88 124.11 L 434.88 122.61" clip-path="url(#pda94e3d83f)" style="fill: none; stroke: #1f77b4; stroke-width: 1.5; stroke-linecap: butt"/><path d="M 434.88 120.135 L 434.88 118.635" clip-path="url(#pda94e3d83f)" style="fill: none; stroke: #1f77b4; stroke-width: 1.5; stroke-linecap: butt"/><path d="M 434.88 116.16 L 434.88 114.66" clip-path="url(#pda94e3d83f)" style="fill: none; stroke: #1f77b4; stroke-width: 1.5; stroke-linecap: butt"/><path d="M 434.88 112.185 L 434.88 110.685" clip-path="url(#pda94e3d83f)" style="fill: none; stroke: #1f77b4; stroke-width: 1.5; stroke-linecap: butt"/><path d="M 434.88 108.21 L 434.88 106.71" clip-path="url(#pda94e3d83f)" style="fill: none; stroke: #1f77b4; stroke-width: 1.5; stroke-linecap: butt"/><path d="M 434.88 104.235 L 434.88 102.735" clip-path="url(#pda94e3d83f)" style="fill: none; stroke: #1f77b4; stroke-width: 1.5; stroke-linecap: butt"/><path d="M 434.88 100.26 L 434.88 98.76" clip-path="url(#pda94e3d83f)" style="fill: none; stroke: #1f77b4; stroke-width: 1.5; stroke-linecap: butt"/><path d="M 434.88 96.285 L 434.88 94.785" clip-path="url(#pda94e3d83f)" style="fill: none; stroke: #1f77b4; stroke-width: 1.5; stroke-linecap: butt"/><path d="M 434.88 92.31 L 434.88 90.81" clip-path="url(#pda94e3d83f)" style="fill: none; stroke: #1f77b4; stroke-width: 1.5; stroke-linecap: butt"/><path d="M 434.88 88.335 L 434.88 86.835" clip-path="url(#pda94e3d83f)" style="fill: none; stroke: #1f77b4; stroke-width: 1.5; stroke-linecap: butt"/><path d="M 434.88 84.36 L 434.88 82.86" clip-path="url(#pda94e3d83f)" style="fill: none; stroke: #1f77b4; stroke-width: 1.5; stroke-linecap: butt"/><path d="M 434.88 80.385 L 434.88 78.885" clip-path="url(#pda94e3d83f)" style="fill: none; stroke: #1f77b4; stroke-width: 1.5; stroke-linecap: butt"/><path d="M 434.88 76.41 L 434.88 74.91" clip-path="url(#pda94e3d83f)" style="fill: none; stroke: #1f77b4; stroke-width: 1.5; stroke-linecap: butt"/><path d="M 434.88 72.435 L 434.88 70.935" clip-path="url(#pda94e3d83f)" style="fill: none; stroke: #1f77b4; stroke-width: 1.5; stroke-linecap: butt"/><path d="M 434.88 68.46 L 434.88 66.96" clip-path="url(#pda94e3d83f)" style="fill: none; stroke: #1f77b4; stroke-width: 1.5; stroke-linecap: butt"/><path d="M 434.88 64.485 L 434.88 62.985" clip-path="url(#pda94e3d83f)" style="fill: none; stroke: #1f77b4; stroke-width: 1.5; stroke-linecap: butt"/><path d="M 434.88 60.51 L 434.88 59.01" clip-path="url(#pda94e3d83f)" style="fill: none; stroke: #1f77b4; stroke-width: 1.5; stroke-linecap: butt"/><path d="M 434.88 56.535 L 434.88 55.035" clip-path="url(#pda94e3d83f)" style="fill: none; stroke: #1f77b4; stroke-width: 1.5; stroke-linecap: butt"/><path d="M 434.88 52.56 L 434.88 51.06" clip-path="url(#pda94e3d83f)" style="fill: none; stroke: #1f77b4; stroke-width: 1.5; stroke-linecap: butt"/><path d="M 434.88 48.585 L 434.88 47.085" clip-path="url(#pda94e3d83f)" style="fill: none; stroke: #1f77b4; stroke-width: 1.5; stroke-linecap: butt"/><path d="M 434.88 44.61 L 434.88 43.11" clip-path="url(#pda94e3d83f)" style="fill: none; stroke: #1f77b4; stroke-width: 1.5; stroke-linecap: butt"/><path d="M 434.88 40.635 L 434.88 39.135" clip-path="url(#pda94e3d83f)" style="fill: none; stroke: #1f77b4; stroke-width: 1.5; stroke-linecap: butt"/><path d="M 434.88 36.66 L 434.88 35.16" clip-path="url(#pda94e3d83f)" style="fill: none; stroke: #1f77b4; stroke-width: 1.5; stroke-linecap: butt"/><path d="M 434.88 32.685 L 434.88 31.185" clip-path="url(#pda94e3d83f)" style="fill: none; stroke: #1f77b4; stroke-width: 1.5; stroke-linecap: butt"/><path d="M 434.88 28.71 L 434.88 27.21" clip-path="url(#pda94e3d83f)" style="fill: none; stroke: #1f77b4; stroke-width: 1.5; stroke-linecap: butt"/></g>
</g>
<g id="line2d_57">
<g><path d="M 342.69 84.24 L 360 84.24" clip-path="url(#pda94e3d83f)" style="fill: none; stroke: #1f77b4; stroke-width: 1.5; stroke-linecap: butt"/><path d="M 360 84.24 L 377.28 84.24" clip-path="url(#pda94e3d83f)" style="fill: none; stroke: #1f77b4; stroke-width: 1.5; stroke-linecap: butt"/><path d="M 377.28 84.24 L 394.56 84.24" clip-path="url(#pda94e3d83f)" style="fill: none; stroke: #1f77b4; stroke-width: 1.5; stroke-linecap: butt"/><path d="M 394.56 84.24 L 411.84 84.24" clip-path="url(#pda94e3d83f)" style="fill: none; stroke: #1f77b4; stroke-width: 1.5; stroke-linecap: butt"/><path d="M 411.84 84.24 L 429.12 84.24" clip-path="url(#pda94e3d83f)" style="fill: none; stroke: #1f77b4; stroke-width: 1.5; stroke-linecap: butt"/><path d="M 429.12 84.24 L 446.4 84.24" clip-path="url(#pda94e3d83f)" style="fill: none; stroke: #1f77b4; stroke-width: 1.5; stroke-linecap: butt"/><path d="M 446.4 84.24 L 463.68 84.24" clip-path="url(#pda94e3d83f)" style="fill: none; stroke: #1f77b4; stroke-width: 1.5; stroke-linecap: butt"/><path d="M 463.68 84.24 L 480.96 84.24" clip-path="url(#pda94e3d83f)" style="fill: none; stroke: #1f77b4; stroke-width: 1.5; stroke-linecap: butt"/><path d="M 480.96 84.24 L 498.24 84.24" clip-path="url(#pda94e3d83f)" style="fill: none; stroke: #1f77b4; stroke-width: 1.5; stroke-linecap: butt"/><path d="M 498.24 84.24 L 515.52 84.24" clip-path="url(#pda94e3d83f)" style="fill: none; stroke: #1f77b4; stroke-width: 1.5; stroke-linecap: butt"/><path d="M 515.52 84.24 L 532.8 84.24" clip-path="url(#pda94e3d83f)" style="fill: none; stroke: #1f77b4; stroke-width: 1.5; stroke-linecap: butt"/><path d="M 532.8 84.24 L 550.08 84.24" clip-path="url(#pda94e3d83f)" style="fill: none; stroke: #1f77b4; stroke-width: 1.5; stroke-linecap: butt"/><path d="M 550.08 84.24 L 566.67 84.24" clip-path="url(#pda94e3d83f)" style="fill: none; stroke: #1f77b4; stroke-width: 1.5; stroke-linecap: butt"/></g>
</g>
<g id="patch_10">
<g><path d="M 343.8 244.12 L 343.8 226.8" style="fill: none; stroke: #000000; stroke-width: 0.8; stroke-linejoin: miter; stroke-linecap: butt"/><path d="M 343.8 226.8 L 343.8 209.52" style="fill: none; stroke: #000000; stroke-width: 0.8; stroke-linejoin: miter; stroke-linecap: butt"/><path d="M 343.8 209.52 L 343.8 192.24" style="fill: none; stroke: #000000; stroke-width: 0.8; stroke-linejoin: miter; stroke-linecap: butt"/><path d="M 343.8 192.24 L 343.8 174.96" style="fill: none; stroke: #000000; stroke-width: 0.8; stroke-linejoin: miter; stroke-linecap: butt"/><path d="M 343.8 174.96 L 343.8 157.68" style="fill: none; stroke: #000000; stroke-width: 0.8; stroke-linejoin: miter; stroke-linecap: butt"/><path d="M 343.8 157.68 L 343.8 140.4" style="fill: none; stroke: #000000; stroke-width: 0.8; stroke-linejoin: miter; stroke-linecap: butt"/><path d="M 343.8 140.4 L 343.8 123.12" style="fill: none; stroke: #000000; stroke-width: 0.8; stroke-linejoin: miter; stroke-linecap: butt"/><path d="M 343.8 123.12 L 343.8 105.84" style="fill: none; stroke: #000000; stroke-width: 0.8; stroke-linejoin: miter; stroke-linecap: butt"/><path d="M 343.8 105.84 L 343.8 88.56" style="fill: none; stroke: #000000; stroke-width: 0.8; stroke-linejoin: miter; stroke-linecap: butt"/><path d="M 343.8 88.56 L 343.8 71.28" style="fill: none; stroke: #000000; stroke-width: 0.8; stroke-linejoin: miter; stroke-linecap: butt"/><path d="M 343.8 71.28 L 343.8 54" style="fill: none; stroke: #000000; stroke-width: 0.8; stroke-linejoin: miter; stroke-linecap: butt"/><path d="M 343.8 54 L 343.8 36.72" style="fill: none; stroke: #000000; stroke-width: 0.8; stroke-linejoin: miter; stroke-linecap: butt"/><path d="M 343.8 36.72 L 343.8 25.88" style="fill: none; stroke: #000000; stroke-width: 0.8; stroke-linejoin: miter; stroke-linecap: butt"/></g>
</g>
<g id="patch_11">
<g><path d="M 566.28 244.12 L 566.28 226.8" style="fill: none; stroke: #000000; stroke-width: 0.8; stroke-linejoin: miter; stroke-linecap: butt"/><path d="M 566.28 226.8 L 566.28 209.52" style="fill: none; stroke: #000000; stroke-width: 0.8; stroke-linejoin: miter; stroke-linecap: butt"/><path d="M 566.28 209.52 L 566.28 192.24" style="fill: none; stroke: #000000; stroke-width: 0.8; stroke-linejoin: miter; stroke-linecap: butt"/><path d="M 566.28 192.24 L 566.28 174.96" style="fill: none; stroke: #000000; stroke-width: 0.8; stroke-linejoin: miter; stroke-linecap: butt"/><path d="M 566.28 174.96 L 566.28 157.68" style="fill: none; stroke: #000000; stroke-width: 0.8; stroke-linejoin: miter; stroke-linecap: butt"/><path d="M 566.28 157.68 L 566.28 140.4" style="fill: none; stroke: #000000; stroke-width: 0.8; stroke-linejoin: miter; stroke-linecap: butt"/><path d="M 566.28 140.4 L 566.28 123.12" style="fill: none; stroke: #000000; stroke-width: 0.8; stroke-linejoin: miter; stroke-linecap: butt"/><path d="M 566.28 123.12 L 566.28 105.84" style="fill: none; stroke: #000000; stroke-width: 0.8; stroke-linejoin: miter; stroke-linecap: butt"/><path d="M 566.28 105.84 L 566.28 88.56" style="fill: none; stroke: #000000; stroke-width: 0.8; stroke-linejoin: miter; stroke-linecap: butt"/><path d="M 566.28 88.56 L 566.28 71.28" style="fill: none; stroke: #000000; stroke-width: 0.8; stroke-linejoin: miter; stroke-linecap: butt"/><path d="M 566.28 71.28 L 566.28 54" style="fill: none; stroke: #000000; stroke-width: 0.8; stroke-linejoin: miter; stroke-linecap: butt"/><path d="M 566.28 54 L 566.28 36.72" style="fill: none; stroke: #000000; stroke-width: 0.8; stroke-linejoin: miter; stroke-linecap: butt"/><path d="M 566.28 36.72 L 566.28 25.88" style="fill: none; stroke: #000000; stroke-width: 0.8; stroke-linejoin: miter; stroke-linecap: butt"/></g>
</g>
<g id="patch_12">
<g><path d="M 343.4 243.72 L 360.72 243.72" style="fill: none; stroke: #000000; stroke-width: 0.8; stroke-linejoin: miter; stroke-linecap: butt"/><path d="M 360.72 243.72 L 378 243.72" style="fill: none; stroke: #000000; stroke-width: 0.8; stroke-linejoin: miter; stroke-linecap: butt"/><path d="M 378 243.72 L 395.28 243.72" style="fill: none; stroke: #000000; stroke-width: 0.8; stroke-linejoin: miter; stroke-linecap: butt"/><path d="M 395.28 243.72 L 412.56 243.72" style="fill: none; stroke: #000000; stroke-width: 0.8; stroke-linejoin: miter; stroke-linecap: butt"/><path d="M 412.56 243.72 L 429.84 243.72" style="fill: none; stroke: #000000; stroke-width: 0.8; stroke-linejoin: miter; stroke-linecap: butt"/><path d="M 429.84 243.72 L 447.12 243.72" style="fill: none; stroke: #000000; stroke-width: 0.8; stroke-linejoin: miter; stroke-linecap: butt"/><path d="M 447.12 243.72 L 464.4 243.72" style="fill: none; stroke: #000000; stroke-width: 0.8; stroke-linejoin: miter; stroke-linecap: butt"/><path d="M 464.4 243.72 L 481.68 243.72" style="fill: none; stroke: #000000; stroke-width: 0.8; stroke-linejoin: miter; stroke-linecap: butt"/><path d="M 481.68 243.72 L 498.96 243.72" style="fill: none; stroke: #000000; stroke-width: 0.8; stroke-linejoin: miter; stroke-linecap: butt"/><path d="M 498.96 243.72 L 516.24 243.72" style="fill: none; stroke: #000000; stroke-width: 0.8; stroke-linejoin: miter; stroke-linecap: butt"/><path d="M 516.24 243.72 L 533.52 243.72" style="fill: none; stroke: #000000; stroke-width: 0.8; stroke-linejoin: miter; stroke-linecap: butt"/><path d="M 533.52 243.72 L 550.8 243.72" style="fill: none; stroke: #000000; stroke-width: 0.8; stroke-linejoin: miter; stroke-linecap: butt"/><path d="M 550.8 243.72 L 566.68 243.72" style="fill: none; stroke: #000000; stroke-width: 0.8; stroke-linejoin: miter; stroke-linecap: butt"/></g>
</g>
<g id="patch_13">
<g><path d="M 343.4 26.28 L 360.72 26.28" style="fill: none; stroke: #000000; stroke-width: 0.8; stroke-linejoin: miter; stroke-linecap: butt"/><path d="M 360.72 26.28 L 378 26.28" style="fill: none; stroke: #000000; stroke-width: 0.8; stroke-linejoin: miter; stroke-linecap: butt"/><path d="M 378 26.28 L 395.28 26.28" style="fill: none; stroke: #000000; stroke-width: 0.8; stroke-linejoin: miter; stroke-linecap: butt"/><path d="M 395.28 26.28 L 412.56 26.28" style="fill: none; stroke: #000000; stroke-width: 0.8; stroke-linejoin: miter; stroke-linecap: butt"/><path d="M 412.56 26.28 L 429.84 26.28" style="fill: none; stroke: #000000; stroke-width: 0.8; stroke-linejoin: miter; stroke-linecap: butt"/><path d="M 429.84 26.28 L 447.12 26.28" style="fill: none; stroke: #000000; stroke-width: 0.8; stroke-linejoin: miter; stroke-linecap: butt"/><path d="M 447.12 26.28 L 464.4 26.28" style="fill: none; stroke: #000000; stroke-width: 0.8; stroke-linejoin: miter; stroke-linecap: butt"/><path d="M 464.4 26.28 L 481.68 26.28" style="fill: none; stroke: #000000; stroke-width: 0.8; stroke-linejoin: miter; stroke-linecap: butt"/><path d="M 481.68 26.28 L 498.96 26.28" style="fill: none; stroke: #000000; stroke-width: 0.8; stroke-linejoin: miter; stroke-linecap: butt"/><path d="M 498.96 26.28 L 516.24 26.28" style="fill: none; stroke: #000000; stroke-width: 0.8; stroke-linejoin: miter; stroke-linecap: butt"/><path d="M 516.24 26.28 L 533.52 26.28" style="fill: none; stroke: #000000; stroke-width: 0.8; stroke-linejoin: miter; stroke-linecap: butt"/><path d="M 533.52 26.28 L 550.8 26.28" style="fill: none; stroke: #000000; stroke-width: 0.8; stroke-linejoin: miter; stroke-linecap: butt"/><path d="M 550.8 26.28 L 566.68 26.28" style="fill: none; stroke: #000000; stroke-width: 0.8; stroke-linejoin: miter; stroke-linecap: butt"/></g>
</g>
<g id="tx148"><text transform="translate(454.32 37.08)" style="font-family: 'DejaVu Sans', 'Liberation Sans', sans-serif"><tspan x="0 6.84 10.8 17.1 20.25 26.55 29.7 36.63 43.02 46.89 50.04 56.43 62.73 65.88 71.73 81.45 84.78" y="0" style="font-size: 10px">V(2.2 Rd) 65 km/s</tspan></text></g>
<g id="tx149"><text transform="translate(454.32 48.1388)" style="font-family: 'DejaVu Sans', 'Liberation Sans', sans-serif"><tspan x="0 6.84 12.78 15.57 19.71 22.86 29.25 35.64 38.79 42.75 48.6 58.32 61.65 66.78" y="0" style="font-size: 10px">Vvir 96 [km/s]</tspan></text></g>
<g id="tx150"><text transform="translate(454.32 59.04)" style="font-family: 'DejaVu Sans', 'Liberation Sans', sans-serif"><tspan x="0 8.64 14.58 17.37 21.51 24.66 31.05 37.44 40.59 46.89 53.28 56.43 60.39 63.18 69.3 75.69 78.84 87.48 92.61 98.91 105.21" y="0" style="font-size: 10px">Mvir 11.39 [log Msun]</tspan></text></g>
<g id="tx151"><text transform="translate(454.32 69.84)" style="font-family: 'DejaVu Sans', 'Liberation Sans', sans-serif"><tspan x="0 6.93 12.87 15.66 19.8 22.95 29.34 35.73 42.03 45.18 49.14 54.99 61.38 66.87" y="0" style="font-size: 10px">Rvir 114.[kpc]</tspan></text></g>
<g id="tx152"><text transform="translate(454.32 80.64)" style="font-family: 'DejaVu Sans', 'Liberation Sans', sans-serif"><tspan x="0 8.64 15.03 17.82 22.95 28.8 31.95 38.34 41.49 47.88 54.18 57.33 61.29 64.08 70.2 76.59 79.74 88.38 93.51 99.81 106.11" y="0" style="font-size: 10px">Mdisk 8.80 [log Msun]</tspan></text></g>
<g id="tx187"><text transform="translate(358.56 20.16)" style="font-family: 'DejaVu Sans', 'Liberation Sans', sans-serif"><tspan x="0 8.64 15.03 20.97 27.27 31.23 37.71 43.83 47.7 50.85 59.22 62.37 68.76 71.91 78.21 84.6 87.75 90.9 99.54 105.93 111.87 118.17 122.13 128.43 134.91 141.03 144.9 148.05 156.42 159.57 165.96 172.26 175.41 181.71 188.01" y="0" style="font-size: 10px">Mdyn(Re) = 9.39  Mdyn(2Re) = 10.07 </tspan></text></g>
<g id="legend_2">
<g id="patch_14">
<path d="M 359.64 238.68 L 559.08 238.68 Q 561.24 238.68 561.24 236.52 L 561.24 86.04 Q 561.24 84.6 559.08 84.6 L 359.64 84.6 Q 357.48 84.6 357.48 86.04 L 357.48 236.52 Q 357.48 238.68 359.64 238.68 z" style="fill: #ffffff; fill-opacity: 0.8; stroke: #cccccc; stroke-opacity: 0.8; stroke-linejoin: miter"/>
</g>
<g id="patch_15">
<path d="M 361.8 96.12 L 381.24 96.12 L 381.24 88.92 L 361.8 88.92 z" style="fill: #808080; fill-opacity: 0.5; stroke: #808080; stroke-opacity: 0.5; stroke-linejoin: miter"/>
</g>
<g id="tx191"><text transform="translate(389.52 95.76)" style="font-family: 'DejaVu Sans', 'Liberation Sans', sans-serif"><tspan x="0 7.02 12.6 15.75 22.14 28.44" y="0" style="font-size: 10px">CL 95%</tspan></text></g>
<g id="line2d_58">
<path d="M 361.44 108.72 L 371.52 108.72 L 380.88 108.72" style="fill: none; stroke: #008000; stroke-width: 1.5; stroke-linecap: square"/>
</g>
<g id="tx192"><text transform="translate(389.52 103.68)" style="font-family: 'DejaVu Sans', 'Liberation Sans', sans-serif"><tspan x="0.72" y="8.64" style="font-size: 10px; font-style: oblique">v</tspan><tspan x="6.48 11.52" y="10.08" style="font-size: 7px; font-style: oblique">DM</tspan><tspan x="18" y="8.64" style="font-size: 10px">(</tspan><tspan x="21.6" y="8.64" style="font-size: 10px; font-style: oblique">r</tspan><tspan x="25.92 30.24 33.12 41.04 47.52 54" y="8.64" style="font-size: 10px">) DC14</tspan></text></g>
<g id="line2d_59">
<path d="M 361.44 126.72 L 371.52 126.72 L 380.88 126.72" style="fill: none; stroke: #ffa500; stroke-width: 1.5; stroke-linecap: square"/>
</g>
<g id="tx193"><text transform="translate(389.52 120.96)" style="font-family: 'DejaVu Sans', 'Liberation Sans', sans-serif"><tspan x="0.72" y="8.64" style="font-size: 10px; font-style: oblique">v</tspan><tspan x="6.48" y="10.08" style="font-size: 7px; font-style: oblique">d</tspan><tspan x="10.8" y="8.64" style="font-size: 10px">(</tspan><tspan x="15.12" y="8.64" style="font-size: 10px; font-style: oblique">r</tspan><tspan x="18.72 23.04 25.92 34.56 42.48" y="8.64" style="font-size: 10px">) MGE</tspan></text></g>
<g id="line2d_60">
<path d="M 361.44 144 L 371.52 144 L 380.88 144" style="fill: none; stroke: #0000ff; stroke-width: 1.5; stroke-linecap: square"/>
</g>
<g id="tx194"><text transform="translate(389.52 138.24)" style="font-family: 'DejaVu Sans', 'Liberation Sans', sans-serif"><tspan x="0.72" y="8.64" style="font-size: 10px; font-style: oblique">v</tspan><tspan x="6.48" y="10.08" style="font-size: 7px; font-style: oblique">g</tspan><tspan x="10.8" y="8.64" style="font-size: 10px">(</tspan><tspan x="15.12" y="8.64" style="font-size: 10px; font-style: oblique">r</tspan><tspan x="18.72 23.04 25.92 30.96 37.44 43.92" y="8.64" style="font-size: 10px">) sgas</tspan></text></g>
<g id="line2d_61">
<path d="M 361.44 162.72 L 371.52 162.72 L 380.88 162.72" style="fill: none; stroke-dasharray: 1.5,2.475; stroke-dashoffset: 0; stroke: #000000; stroke-width: 1.5"/>
</g>
<g id="tx195"><text transform="translate(389.52 156.96)" style="font-family: 'DejaVu Sans', 'Liberation Sans', sans-serif"><tspan x="0.72" y="8.64" style="font-size: 10px; font-style: oblique">v</tspan><tspan x="6.48" y="10.08" style="font-size: 7px; font-style: oblique">c</tspan><tspan x="10.08" y="8.64" style="font-size: 10px">(</tspan><tspan x="14.4" y="8.64" style="font-size: 10px; font-style: oblique">r</tspan><tspan x="18.72 22.32 25.2 33.84 36.72 40.32 46.8 52.56 59.04 63.36 66.24 72.72 80.64 87.84 90.72 95.04 102.24 108.72 111.6 116.64 123.12 129.6 133.2 139.68 145.44 151.2 157.68 160.56 163.44" y="8.64" style="font-size: 10px">) without ADC (DalcantonFull)</tspan></text></g>
<g id="line2d_62">
<path d="M 361.44 180.72 L 371.52 180.72 L 380.88 180.72" style="fill: none; stroke: #000000; stroke-width: 1.5; stroke-linecap: square"/>
</g>
<g id="tx196"><text transform="translate(389.52 174.96)" style="font-family: 'DejaVu Sans', 'Liberation Sans', sans-serif"><tspan x="0.72" y="8.64" style="font-size: 10px; font-style: oblique">v</tspan><tspan x="6.48" y="8.64" style="font-size: 10px">(</tspan><tspan x="10.08" y="8.64" style="font-size: 10px; font-style: oblique">r</tspan><tspan x="14.4 18 21.6 28.8 36 42.48 48.96 57.6 64.8 71.28 76.32 82.8 89.28 94.32 100.8 106.56 113.04" y="8.64" style="font-size: 10px">) DC14MGEsgasnone</tspan></text></g>
<g id="line2d_63">
<path d="M 361.8 198.36 L 371.88 198.36 L 381.24 198.36" style="fill: none; stroke: #ffc0cb; stroke-linecap: square"/>
</g>
<g id="tx197"><text transform="translate(389.52 192.96)" style="font-family: 'DejaVu Sans', 'Liberation Sans', sans-serif"><tspan x="0.72" y="8.64" style="font-size: 10px; font-style: oblique">v</tspan><tspan x="6.48" y="8.64" style="font-size: 10px">(</tspan><tspan x="10.08" y="8.64" style="font-size: 10px; font-style: oblique">r</tspan><tspan x="14.4 18 21.6 27.36 33.84 37.44" y="8.64" style="font-size: 10px">) 50\%</tspan></text></g>
<g id="line2d_64">
<path d="M 361.44 213.12 L 371.52 213.12 L 380.88 213.12" style="fill: none; stroke-dasharray: 1.5,2.475; stroke-dashoffset: 0; stroke: #1f77b4; stroke-width: 1.5"/>
</g>
<g id="tx198"><text transform="translate(389.52 216.72)" style="font-family: 'DejaVu Sans', 'Liberation Sans', sans-serif"><tspan x="0 6.3 9.45 16.38 22.68 28.89 31.68" y="0" style="font-size: 10px">2 Rhalf</tspan></text></g>
<g id="line2d_65">
<path d="M 361.44 228.24 L 371.52 228.24 L 380.88 228.24" style="fill: none; stroke: #1f77b4; stroke-width: 1.5; stroke-linecap: square"/>
</g>
<g id="tx199"><text transform="translate(389.52 231.84)" style="font-family: 'DejaVu Sans', 'Liberation Sans', sans-serif"><tspan x="0 6.12 12.06 14.85" y="0" style="font-size: 10px">Vvir</tspan></text></g>
</g>
</g>
<g id="axes_3">
<g id="patch_16">
<path d="M 630.72 243.36 L 853.2 243.36 L 853.2 25.92 L 630.72 25.92 z" style="fill: #ffffff"/>
</g>
<g id="FillBetweenPolyCollection_6">
<defs>
<path id="m11608d4f6d" d="M 634.896 -44.097
L 634.896 -44.048
L 635.989 -44.225
L 637.083 -44.467
L 638.176 -44.770
L 639.270 -45.132
L 640.364 -45.550
L 641.457 -46.021
L 642.551 -46.543
L 643.645 -47.111
L 644.738 -47.725
L 645.832 -48.379
L 646.925 -49.073
L 648.019 -49.803
L 649.113 -50.566
L 650.206 -51.360
L 651.300 -52.184
L 652.394 -53.037
L 653.487 -53.917
L 654.581 -54.824
L 655.674 -55.757
L 656.768 -56.714
L 657.862 -57.694
L 658.955 -58.697
L 660.049 -59.720
L 661.143 -60.764
L 662.236 -61.827
L 663.330 -62.908
L 664.423 -64.005
L 665.517 -65.118
L 666.611 -66.246
L 667.704 -67.388
L 668.798 -68.541
L 669.892 -69.706
L 670.985 -70.882
L 672.079 -72.066
L 673.172 -73.259
L 674.266 -74.460
L 675.360 -75.668
L 676.453 -76.882
L 677.547 -78.102
L 678.641 -79.328
L 679.734 -80.559
L 680.828 -81.794
L 681.922 -83.032
L 683.015 -84.273
L 684.109 -85.517
L 685.202 -86.762
L 686.296 -88.009
L 687.390 -89.256
L 688.483 -90.503
L 689.577 -91.749
L 690.671 -92.994
L 691.764 -94.238
L 692.858 -95.479
L 693.951 -96.717
L 695.045 -97.951
L 696.139 -99.181
L 697.232 -100.406
L 698.326 -101.626
L 699.420 -102.839
L 700.513 -104.046
L 701.607 -105.246
L 702.700 -106.438
L 703.794 -107.621
L 704.888 -108.796
L 705.981 -109.960
L 707.075 -111.115
L 708.169 -112.259
L 709.262 -113.391
L 710.356 -114.511
L 711.449 -115.618
L 712.543 -116.713
L 713.637 -117.793
L 714.730 -118.859
L 715.824 -119.910
L 716.918 -120.945
L 718.011 -121.964
L 719.105 -122.966
L 720.198 -123.950
L 721.292 -124.917
L 722.386 -125.865
L 723.479 -126.793
L 724.573 -127.702
L 725.667 -128.590
L 726.760 -129.457
L 727.854 -130.303
L 728.948 -131.126
L 730.041 -131.926
L 731.135 -132.703
L 732.228 -133.456
L 733.322 -134.185
L 734.416 -134.890
L 735.509 -135.572
L 736.603 -136.232
L 737.697 -136.869
L 738.790 -137.484
L 739.884 -138.079
L 740.977 -138.652
L 742.071 -139.205
L 743.165 -139.738
L 744.258 -140.251
L 745.352 -140.745
L 746.446 -141.221
L 747.539 -141.678
L 748.633 -142.117
L 749.726 -142.539
L 750.820 -142.945
L 751.914 -143.334
L 753.007 -143.706
L 754.101 -144.064
L 755.195 -144.406
L 756.288 -144.733
L 757.382 -145.047
L 758.475 -145.346
L 759.569 -145.632
L 760.663 -145.906
L 761.756 -146.166
L 762.850 -146.415
L 763.944 -146.652
L 765.037 -146.879
L 766.131 -147.094
L 767.225 -147.299
L 768.318 -147.495
L 769.412 -147.681
L 770.505 -147.858
L 771.599 -148.027
L 772.693 -148.188
L 773.786 -148.341
L 774.880 -148.487
L 775.974 -148.627
L 777.067 -148.760
L 778.161 -148.887
L 779.254 -149.010
L 780.348 -149.127
L 781.442 -149.239
L 782.535 -149.347
L 783.629 -149.450
L 784.723 -149.549
L 785.816 -149.644
L 786.910 -149.734
L 788.003 -149.820
L 789.097 -149.902
L 790.191 -149.981
L 791.284 -150.055
L 792.378 -150.126
L 793.472 -150.193
L 794.565 -150.256
L 795.659 -150.316
L 796.752 -150.373
L 797.846 -150.427
L 798.940 -150.477
L 800.033 -150.525
L 801.127 -150.570
L 802.221 -150.612
L 803.314 -150.651
L 804.408 -150.687
L 805.501 -150.721
L 806.595 -150.753
L 807.689 -150.783
L 808.782 -150.810
L 809.876 -150.835
L 810.970 -150.858
L 812.063 -150.880
L 813.157 -150.899
L 814.251 -150.917
L 815.344 -150.934
L 816.438 -150.949
L 817.531 -150.962
L 818.625 -150.975
L 819.719 -150.986
L 820.812 -150.996
L 821.906 -151.005
L 823.000 -151.014
L 824.093 -151.021
L 825.187 -151.028
L 826.280 -151.035
L 827.374 -151.041
L 828.468 -151.046
L 829.561 -151.052
L 830.655 -151.057
L 831.749 -151.063
L 832.842 -151.068
L 833.936 -151.074
L 835.029 -151.080
L 836.123 -151.086
L 837.217 -151.093
L 838.310 -151.100
L 839.404 -151.109
L 840.498 -151.117
L 841.591 -151.127
L 842.685 -151.138
L 843.778 -151.150
L 844.872 -151.163
L 845.966 -151.178
L 847.059 -151.194
L 848.153 -151.211
L 849.247 -151.230
L 850.340 -151.251
L 851.434 -151.274
L 852.527 -151.298
L 852.527 -248.763
L 852.527 -248.763
L 851.434 -248.340
L 850.340 -247.910
L 849.247 -247.472
L 848.153 -247.026
L 847.059 -246.573
L 845.966 -246.112
L 844.872 -245.644
L 843.778 -245.168
L 842.685 -244.686
L 841.591 -244.196
L 840.498 -243.699
L 839.404 -243.195
L 838.310 -242.685
L 837.217 -242.167
L 836.123 -241.643
L 835.029 -241.113
L 833.936 -240.575
L 832.842 -240.032
L 831.749 -239.482
L 830.655 -238.926
L 829.561 -238.364
L 828.468 -237.796
L 827.374 -237.222
L 826.280 -236.642
L 825.187 -236.056
L 824.093 -235.465
L 823.000 -234.868
L 821.906 -234.266
L 820.812 -233.658
L 819.719 -233.045
L 818.625 -232.426
L 817.531 -231.803
L 816.438 -231.175
L 815.344 -230.541
L 814.251 -229.903
L 813.157 -229.260
L 812.063 -228.612
L 810.970 -227.960
L 809.876 -227.303
L 808.782 -226.642
L 807.689 -225.977
L 806.595 -225.307
L 805.501 -224.633
L 804.408 -223.955
L 803.314 -223.273
L 802.221 -222.588
L 801.127 -221.898
L 800.033 -221.205
L 798.940 -220.509
L 797.846 -219.809
L 796.752 -219.105
L 795.659 -218.398
L 794.565 -217.688
L 793.472 -216.974
L 792.378 -216.257
L 791.284 -215.536
L 790.191 -214.810
L 789.097 -214.079
L 788.003 -213.344
L 786.910 -212.603
L 785.816 -211.857
L 784.723 -211.105
L 783.629 -210.347
L 782.535 -209.582
L 781.442 -208.811
L 780.348 -208.033
L 779.254 -207.247
L 778.161 -206.454
L 777.067 -205.654
L 775.974 -204.845
L 774.880 -204.027
L 773.786 -203.201
L 772.693 -202.366
L 771.599 -201.521
L 770.505 -200.667
L 769.412 -199.803
L 768.318 -198.929
L 767.225 -198.044
L 766.131 -197.150
L 765.037 -196.245
L 763.944 -195.330
L 762.850 -194.406
L 761.756 -193.472
L 760.663 -192.528
L 759.569 -191.575
L 758.475 -190.613
L 757.382 -189.642
L 756.288 -188.661
L 755.195 -187.672
L 754.101 -186.675
L 753.007 -185.669
L 751.914 -184.655
L 750.820 -183.632
L 749.726 -182.601
L 748.633 -181.563
L 747.539 -180.517
L 746.446 -179.463
L 745.352 -178.401
L 744.258 -177.333
L 743.165 -176.257
L 742.071 -175.174
L 740.977 -174.084
L 739.884 -172.987
L 738.790 -171.884
L 737.697 -170.775
L 736.603 -169.659
L 735.509 -168.537
L 734.416 -167.408
L 733.322 -166.274
L 732.228 -165.135
L 731.135 -163.989
L 730.041 -162.837
L 728.948 -161.678
L 727.854 -160.512
L 726.760 -159.338
L 725.667 -158.156
L 724.573 -156.965
L 723.479 -155.764
L 722.386 -154.553
L 721.292 -153.332
L 720.198 -152.101
L 719.105 -150.860
L 718.011 -149.609
L 716.918 -148.348
L 715.824 -147.079
L 714.730 -145.801
L 713.637 -144.515
L 712.543 -143.221
L 711.449 -141.918
L 710.356 -140.609
L 709.262 -139.292
L 708.169 -137.968
L 707.075 -136.638
L 705.981 -135.301
L 704.888 -133.958
L 703.794 -132.608
L 702.700 -131.251
L 701.607 -129.887
L 700.513 -128.516
L 699.420 -127.138
L 698.326 -125.752
L 697.232 -124.359
L 696.139 -122.957
L 695.045 -121.548
L 693.951 -120.130
L 692.858 -118.704
L 691.764 -117.269
L 690.671 -115.826
L 689.577 -114.374
L 688.483 -112.913
L 687.390 -111.443
L 686.296 -109.963
L 685.202 -108.474
L 684.109 -106.976
L 683.015 -105.467
L 681.922 -103.948
L 680.828 -102.420
L 679.734 -100.881
L 678.641 -99.331
L 677.547 -97.771
L 676.453 -96.200
L 675.360 -94.618
L 674.266 -93.025
L 673.172 -91.421
L 672.079 -89.805
L 670.985 -88.177
L 669.892 -86.539
L 668.798 -84.893
L 667.704 -83.241
L 666.611 -81.586
L 665.517 -79.931
L 664.423 -78.279
L 663.330 -76.631
L 662.236 -74.991
L 661.143 -73.361
L 660.049 -71.744
L 658.955 -70.142
L 657.862 -68.558
L 656.768 -66.995
L 655.674 -65.456
L 654.581 -63.942
L 653.487 -62.456
L 652.394 -61.002
L 651.300 -59.581
L 650.206 -58.197
L 649.113 -56.852
L 648.019 -55.548
L 646.925 -54.288
L 645.832 -53.075
L 644.738 -51.912
L 643.645 -50.801
L 642.551 -49.744
L 641.457 -48.745
L 640.364 -47.805
L 639.270 -46.928
L 638.176 -46.116
L 637.083 -45.372
L 635.989 -44.698
L 634.896 -44.097
z
" style="stroke: #808080; stroke-opacity: 0.5"/>
</defs>
<g clip-path="url(#p29b7ed277d)">
<use href="#m11608d4f6d" x="0" y="288" style="fill: #808080; fill-opacity: 0.5; stroke: #808080; stroke-opacity: 0.5"/>
</g>
</g>
<g id="matplotlib.axis_5">
<g id="xtick_9">
<g id="line2d_66">
<g>
<use href="#m7a11be87dc" x="635.4" y="243.72" style="stroke: #000000; stroke-width: 0.8"/>
</g>
</g>
<g id="tx204"><text transform="translate(632.88 257.76)" style="font-family: 'DejaVu Sans', 'Liberation Sans', sans-serif"><tspan x="0" y="0" style="font-size: 10px">0</tspan></text></g>
</g>
<g id="xtick_10">
<g id="line2d_67">
<g>
<use href="#m7a11be87dc" x="696.6" y="243.72" style="stroke: #000000; stroke-width: 0.8"/>
</g>
</g>
<g id="tx206"><text transform="translate(694.08 257.76)" style="font-family: 'DejaVu Sans', 'Liberation Sans', sans-serif"><tspan x="-0.72" y="0" style="font-size: 10px">5</tspan></text></g>
</g>
<g id="xtick_11">
<g id="line2d_68">
<g>
<use href="#m7a11be87dc" x="757.8" y="243.72" style="stroke: #000000; stroke-width: 0.8"/>
</g>
</g>
<g id="tx208"><text transform="translate(752.4 257.76)" style="font-family: 'DejaVu Sans', 'Liberation Sans', sans-serif"><tspan x="-0.72 4.95" y="0" style="font-size: 10px">10</tspan></text></g>
</g>
<g id="xtick_12">
<g id="line2d_69">
<g>
<use href="#m7a11be87dc" x="819" y="243.72" style="stroke: #000000; stroke-width: 0.8"/>
</g>
</g>
<g id="tx210"><text transform="translate(813.6 257.76)" style="font-family: 'DejaVu Sans', 'Liberation Sans', sans-serif"><tspan x="-0.72 4.95" y="0" style="font-size: 10px">15</tspan></text></g>
</g>
<g id="tx200"><text transform="translate(725.76 264.96)" style="font-family: 'DejaVu Sans', 'Liberation Sans', sans-serif"><tspan x="0.72" y="8.64" style="font-size: 10px; font-style: oblique">r</tspan><tspan x="4.32 7.92 11.52 17.28 23.76 28.8" y="8.64" style="font-size: 10px"> (kpc)</tspan></text></g>
</g>
<g id="matplotlib.axis_6">
<g id="ytick_35">
<g id="line2d_70">
<g>
<use href="#m886c599e26" x="631.08" y="243.72" style="stroke: #000000; stroke-width: 0.8"/>
</g>
</g>
<g id="tx216"><text transform="translate(618.48 246.96)" style="font-family: 'DejaVu Sans', 'Liberation Sans', sans-serif"><tspan x="0" y="0" style="font-size: 10px">0</tspan></text></g>
</g>
<g id="ytick_36">
<g id="line2d_71">
<g>
<use href="#m886c599e26" x="631.08" y="219.24" style="stroke: #000000; stroke-width: 0.8"/>
</g>
</g>
<g id="tx218"><text transform="translate(612 223.2)" style="font-family: 'DejaVu Sans', 'Liberation Sans', sans-serif"><tspan x="-0.72 4.86" y="0" style="font-size: 10px">50</tspan></text></g>
</g>
<g id="ytick_37">
<g id="line2d_72">
<g>
<use href="#m886c599e26" x="631.08" y="195.48" style="stroke: #000000; stroke-width: 0.8"/>
</g>
</g>
<g id="tx220"><text transform="translate(606.24 198.72)" style="font-family: 'DejaVu Sans', 'Liberation Sans', sans-serif"><tspan x="-0.72 4.95 11.25" y="0" style="font-size: 10px">100</tspan></text></g>
</g>
<g id="ytick_38">
<g id="line2d_73">
<g>
<use href="#m886c599e26" x="631.08" y="171" style="stroke: #000000; stroke-width: 0.8"/>
</g>
</g>
<g id="tx222"><text transform="translate(606.24 174.96)" style="font-family: 'DejaVu Sans', 'Liberation Sans', sans-serif"><tspan x="-0.72 4.95 11.25" y="0" style="font-size: 10px">150</tspan></text></g>
</g>
<g id="ytick_39">
<g id="line2d_74">
<g>
<use href="#m886c599e26" x="631.08" y="147.24" style="stroke: #000000; stroke-width: 0.8"/>
</g>
</g>
<g id="tx224"><text transform="translate(605.52 150.48)" style="font-family: 'DejaVu Sans', 'Liberation Sans', sans-serif"><tspan x="-0.72 5.58 11.88" y="0" style="font-size: 10px">200</tspan></text></g>
</g>
<g id="ytick_40">
<g id="line2d_75">
<g>
<use href="#m886c599e26" x="631.08" y="122.76" style="stroke: #000000; stroke-width: 0.8"/>
</g>
</g>
<g id="tx226"><text transform="translate(605.52 126.72)" style="font-family: 'DejaVu Sans', 'Liberation Sans', sans-serif"><tspan x="-0.72 5.58 11.88" y="0" style="font-size: 10px">250</tspan></text></g>
</g>
<g id="ytick_41">
<g id="line2d_76">
<g>
<use href="#m886c599e26" x="631.08" y="99" style="stroke: #000000; stroke-width: 0.8"/>
</g>
</g>
<g id="tx228"><text transform="translate(605.52 102.24)" style="font-family: 'DejaVu Sans', 'Liberation Sans', sans-serif"><tspan x="-0.72 4.86 11.16" y="0" style="font-size: 10px">300</tspan></text></g>
</g>
<g id="ytick_42">
<g id="line2d_77">
<g>
<use href="#m886c599e26" x="631.08" y="74.52" style="stroke: #000000; stroke-width: 0.8"/>
</g>
</g>
<g id="tx230"><text transform="translate(605.52 78.48)" style="font-family: 'DejaVu Sans', 'Liberation Sans', sans-serif"><tspan x="-0.72 4.86 11.16" y="0" style="font-size: 10px">350</tspan></text></g>
</g>
<g id="ytick_43">
<g id="line2d_78">
<g>
<use href="#m886c599e26" x="631.08" y="50.76" style="stroke: #000000; stroke-width: 0.8"/>
</g>
</g>
<g id="tx232"><text transform="translate(605.52 54)" style="font-family: 'DejaVu Sans', 'Liberation Sans', sans-serif"><tspan x="0 5.58 11.88" y="0" style="font-size: 10px">400</tspan></text></g>
</g>
<g id="tx214"><text transform="translate(588.24 196.56) rotate(-90)" style="font-family: 'DejaVu Sans', 'Liberation Sans', sans-serif"><tspan x="1.44" y="8.64" style="font-size: 10px; font-style: oblique">j</tspan><tspan x="4.32 10.08" y="8.64" style="font-size: 10px">(&lt;</tspan><tspan x="20.16" y="8.64" style="font-size: 10px; font-style: oblique">r</tspan><tspan x="24.48 28.08 31.68 35.28 41.04 51.12 54.72 59.76 62.64 68.4 74.88 80.64 84.24 87.12 93.6 100.08 106.56 110.16 116.64 119.52" y="8.64" style="font-size: 10px">) (km/s kpc) deproj.</tspan></text></g>
</g>
<g id="line2d_79">
<g><path d="M 722.16 243.36 L 722.16 241.86" clip-path="url(#p29b7ed277d)" style="fill: none; stroke: #1f77b4; stroke-width: 1.5; stroke-linecap: butt"/><path d="M 722.16 239.385 L 722.16 237.885" clip-path="url(#p29b7ed277d)" style="fill: none; stroke: #1f77b4; stroke-width: 1.5; stroke-linecap: butt"/><path d="M 722.16 235.41 L 722.16 233.91" clip-path="url(#p29b7ed277d)" style="fill: none; stroke: #1f77b4; stroke-width: 1.5; stroke-linecap: butt"/><path d="M 722.16 231.435 L 722.16 229.935" clip-path="url(#p29b7ed277d)" style="fill: none; stroke: #1f77b4; stroke-width: 1.5; stroke-linecap: butt"/><path d="M 722.16 227.46 L 722.16 225.96" clip-path="url(#p29b7ed277d)" style="fill: none; stroke: #1f77b4; stroke-width: 1.5; stroke-linecap: butt"/><path d="M 722.16 223.485 L 722.16 221.985" clip-path="url(#p29b7ed277d)" style="fill: none; stroke: #1f77b4; stroke-width: 1.5; stroke-linecap: butt"/><path d="M 722.16 219.51 L 722.16 218.01" clip-path="url(#p29b7ed277d)" style="fill: none; stroke: #1f77b4; stroke-width: 1.5; stroke-linecap: butt"/><path d="M 722.16 215.535 L 722.16 214.035" clip-path="url(#p29b7ed277d)" style="fill: none; stroke: #1f77b4; stroke-width: 1.5; stroke-linecap: butt"/><path d="M 722.16 211.56 L 722.16 210.06" clip-path="url(#p29b7ed277d)" style="fill: none; stroke: #1f77b4; stroke-width: 1.5; stroke-linecap: butt"/><path d="M 722.16 207.585 L 722.16 206.085" clip-path="url(#p29b7ed277d)" style="fill: none; stroke: #1f77b4; stroke-width: 1.5; stroke-linecap: butt"/><path d="M 722.16 203.61 L 722.16 202.11" clip-path="url(#p29b7ed277d)" style="fill: none; stroke: #1f77b4; stroke-width: 1.5; stroke-linecap: butt"/><path d="M 722.16 199.635 L 722.16 198.135" clip-path="url(#p29b7ed277d)" style="fill: none; stroke: #1f77b4; stroke-width: 1.5; stroke-linecap: butt"/><path d="M 722.16 195.66 L 722.16 194.16" clip-path="url(#p29b7ed277d)" style="fill: none; stroke: #1f77b4; stroke-width: 1.5; stroke-linecap: butt"/><path d="M 722.16 191.685 L 722.16 190.185" clip-path="url(#p29b7ed277d)" style="fill: none; stroke: #1f77b4; stroke-width: 1.5; stroke-linecap: butt"/><path d="M 722.16 187.71 L 722.16 186.21" clip-path="url(#p29b7ed277d)" style="fill: none; stroke: #1f77b4; stroke-width: 1.5; stroke-linecap: butt"/><path d="M 722.16 183.735 L 722.16 182.235" clip-path="url(#p29b7ed277d)" style="fill: none; stroke: #1f77b4; stroke-width: 1.5; stroke-linecap: butt"/><path d="M 722.16 179.76 L 722.16 178.26" clip-path="url(#p29b7ed277d)" style="fill: none; stroke: #1f77b4; stroke-width: 1.5; stroke-linecap: butt"/><path d="M 722.16 175.785 L 722.16 174.285" clip-path="url(#p29b7ed277d)" style="fill: none; stroke: #1f77b4; stroke-width: 1.5; stroke-linecap: butt"/><path d="M 722.16 171.81 L 722.16 170.31" clip-path="url(#p29b7ed277d)" style="fill: none; stroke: #1f77b4; stroke-width: 1.5; stroke-linecap: butt"/><path d="M 722.16 167.835 L 722.16 166.335" clip-path="url(#p29b7ed277d)" style="fill: none; stroke: #1f77b4; stroke-width: 1.5; stroke-linecap: butt"/><path d="M 722.16 163.86 L 722.16 162.36" clip-path="url(#p29b7ed277d)" style="fill: none; stroke: #1f77b4; stroke-width: 1.5; stroke-linecap: butt"/><path d="M 722.16 159.885 L 722.16 158.385" clip-path="url(#p29b7ed277d)" style="fill: none; stroke: #1f77b4; stroke-width: 1.5; stroke-linecap: butt"/><path d="M 722.16 155.91 L 722.16 154.41" clip-path="url(#p29b7ed277d)" style="fill: none; stroke: #1f77b4; stroke-width: 1.5; stroke-linecap: butt"/><path d="M 722.16 151.935 L 722.16 150.435" clip-path="url(#p29b7ed277d)" style="fill: none; stroke: #1f77b4; stroke-width: 1.5; stroke-linecap: butt"/><path d="M 722.16 147.96 L 722.16 146.46" clip-path="url(#p29b7ed277d)" style="fill: none; stroke: #1f77b4; stroke-width: 1.5; stroke-linecap: butt"/><path d="M 722.16 143.985 L 722.16 142.485" clip-path="url(#p29b7ed277d)" style="fill: none; stroke: #1f77b4; stroke-width: 1.5; stroke-linecap: butt"/><path d="M 722.16 140.01 L 722.16 138.51" clip-path="url(#p29b7ed277d)" style="fill: none; stroke: #1f77b4; stroke-width: 1.5; stroke-linecap: butt"/><path d="M 722.16 136.035 L 722.16 134.535" clip-path="url(#p29b7ed277d)" style="fill: none; stroke: #1f77b4; stroke-width: 1.5; stroke-linecap: butt"/><path d="M 722.16 132.06 L 722.16 130.56" clip-path="url(#p29b7ed277d)" style="fill: none; stroke: #1f77b4; stroke-width: 1.5; stroke-linecap: butt"/><path d="M 722.16 128.085 L 722.16 126.585" clip-path="url(#p29b7ed277d)" style="fill: none; stroke: #1f77b4; stroke-width: 1.5; stroke-linecap: butt"/><path d="M 722.16 124.11 L 722.16 122.61" clip-path="url(#p29b7ed277d)" style="fill: none; stroke: #1f77b4; stroke-width: 1.5; stroke-linecap: butt"/><path d="M 722.16 120.135 L 722.16 118.635" clip-path="url(#p29b7ed277d)" style="fill: none; stroke: #1f77b4; stroke-width: 1.5; stroke-linecap: butt"/><path d="M 722.16 116.16 L 722.16 114.66" clip-path="url(#p29b7ed277d)" style="fill: none; stroke: #1f77b4; stroke-width: 1.5; stroke-linecap: butt"/><path d="M 722.16 112.185 L 722.16 110.685" clip-path="url(#p29b7ed277d)" style="fill: none; stroke: #1f77b4; stroke-width: 1.5; stroke-linecap: butt"/><path d="M 722.16 108.21 L 722.16 106.71" clip-path="url(#p29b7ed277d)" style="fill: none; stroke: #1f77b4; stroke-width: 1.5; stroke-linecap: butt"/><path d="M 722.16 104.235 L 722.16 102.735" clip-path="url(#p29b7ed277d)" style="fill: none; stroke: #1f77b4; stroke-width: 1.5; stroke-linecap: butt"/><path d="M 722.16 100.26 L 722.16 98.76" clip-path="url(#p29b7ed277d)" style="fill: none; stroke: #1f77b4; stroke-width: 1.5; stroke-linecap: butt"/><path d="M 722.16 96.285 L 722.16 94.785" clip-path="url(#p29b7ed277d)" style="fill: none; stroke: #1f77b4; stroke-width: 1.5; stroke-linecap: butt"/><path d="M 722.16 92.31 L 722.16 90.81" clip-path="url(#p29b7ed277d)" style="fill: none; stroke: #1f77b4; stroke-width: 1.5; stroke-linecap: butt"/><path d="M 722.16 88.335 L 722.16 86.835" clip-path="url(#p29b7ed277d)" style="fill: none; stroke: #1f77b4; stroke-width: 1.5; stroke-linecap: butt"/><path d="M 722.16 84.36 L 722.16 82.86" clip-path="url(#p29b7ed277d)" style="fill: none; stroke: #1f77b4; stroke-width: 1.5; stroke-linecap: butt"/><path d="M 722.16 80.385 L 722.16 78.885" clip-path="url(#p29b7ed277d)" style="fill: none; stroke: #1f77b4; stroke-width: 1.5; stroke-linecap: butt"/><path d="M 722.16 76.41 L 722.16 74.91" clip-path="url(#p29b7ed277d)" style="fill: none; stroke: #1f77b4; stroke-width: 1.5; stroke-linecap: butt"/><path d="M 722.16 72.435 L 722.16 70.935" clip-path="url(#p29b7ed277d)" style="fill: none; stroke: #1f77b4; stroke-width: 1.5; stroke-linecap: butt"/><path d="M 722.16 68.46 L 722.16 66.96" clip-path="url(#p29b7ed277d)" style="fill: none; stroke: #1f77b4; stroke-width: 1.5; stroke-linecap: butt"/><path d="M 722.16 64.485 L 722.16 62.985" clip-path="url(#p29b7ed277d)" style="fill: none; stroke: #1f77b4; stroke-width: 1.5; stroke-linecap: butt"/><path d="M 722.16 60.51 L 722.16 59.01" clip-path="url(#p29b7ed277d)" style="fill: none; stroke: #1f77b4; stroke-width: 1.5; stroke-linecap: butt"/><path d="M 722.16 56.535 L 722.16 55.035" clip-path="url(#p29b7ed277d)" style="fill: none; stroke: #1f77b4; stroke-width: 1.5; stroke-linecap: butt"/><path d="M 722.16 52.56 L 722.16 51.06" clip-path="url(#p29b7ed277d)" style="fill: none; stroke: #1f77b4; stroke-width: 1.5; stroke-linecap: butt"/><path d="M 722.16 48.585 L 722.16 47.085" clip-path="url(#p29b7ed277d)" style="fill: none; stroke: #1f77b4; stroke-width: 1.5; stroke-linecap: butt"/><path d="M 722.16 44.61 L 722.16 43.11" clip-path="url(#p29b7ed277d)" style="fill: none; stroke: #1f77b4; stroke-width: 1.5; stroke-linecap: butt"/><path d="M 722.16 40.635 L 722.16 39.135" clip-path="url(#p29b7ed277d)" style="fill: none; stroke: #1f77b4; stroke-width: 1.5; stroke-linecap: butt"/><path d="M 722.16 36.66 L 722.16 35.16" clip-path="url(#p29b7ed277d)" style="fill: none; stroke: #1f77b4; stroke-width: 1.5; stroke-linecap: butt"/><path d="M 722.16 32.685 L 722.16 31.185" clip-path="url(#p29b7ed277d)" style="fill: none; stroke: #1f77b4; stroke-width: 1.5; stroke-linecap: butt"/><path d="M 722.16 28.71 L 722.16 27.21" clip-path="url(#p29b7ed277d)" style="fill: none; stroke: #1f77b4; stroke-width: 1.5; stroke-linecap: butt"/></g>
</g>
<g id="line2d_80">
<path d="M 634.896 243.950 L 637.083 243.181 L 639.270 242.158 L 641.457 240.896 L 643.645 239.413 L 645.832 237.725 L 649.113 234.846 L 652.394 231.599 L 655.674 228.041 L 660.049 222.912 L 665.517 216.067 L 690.671 183.876 L 698.326 174.577 L 704.888 166.917 L 711.449 159.604 L 716.918 153.814 L 722.386 148.337 L 727.854 143.204 L 732.228 139.367 L 736.603 135.787 L 740.977 132.466 L 745.352 129.395 L 749.726 126.560 L 754.101 123.952 L 758.475 121.557 L 763.944 118.849 L 769.412 116.436 L 774.880 114.295 L 780.348 112.405 L 785.816 110.742 L 791.284 109.286 L 797.846 107.779 L 804.408 106.497 L 812.063 105.236 L 820.812 104.029 L 832.842 102.614 L 852.527 100.339 L 852.527 100.339" clip-path="url(#p29b7ed277d)" style="fill: none; stroke: #000000; stroke-width: 1.5; stroke-linecap: square"/>
</g>
<g id="line2d_81">
<path d="M 634.896 243.902 L 637.083 242.627 L 639.270 241.071 L 641.457 239.254 L 643.645 237.198 L 646.925 233.711 L 650.206 229.802 L 653.487 225.543 L 657.862 219.441 L 663.330 211.368 L 675.360 193.381 L 681.922 184.051 L 688.483 175.086 L 696.139 165.042 L 703.794 155.391 L 711.449 146.081 L 718.011 138.390 L 724.573 131.034 L 731.135 124.010 L 738.790 116.115 L 746.446 108.536 L 753.007 102.330 L 759.569 96.424 L 766.131 90.849 L 771.599 86.478 L 778.161 81.545 L 784.723 76.894 L 792.378 71.742 L 802.221 65.411 L 810.970 60.039 L 818.625 55.573 L 826.280 51.357 L 832.842 47.967 L 839.404 44.804 L 845.966 41.887 L 852.527 39.236 L 852.527 39.236" clip-path="url(#p29b7ed277d)" style="fill: none; stroke: #ff0000; stroke-linecap: square"/>
</g>
<g id="line2d_82">
<path d="M 634.896 243.951 L 637.083 243.532 L 639.270 242.867 L 641.457 241.978 L 643.645 240.888 L 646.925 238.926 L 650.206 236.639 L 653.487 234.082 L 656.768 231.285 L 661.143 227.235 L 665.517 222.881 L 670.985 217.117 L 678.641 208.671 L 705.981 178.039 L 711.449 172.381 L 716.918 167.054 L 721.292 163.082 L 725.667 159.409 L 730.041 156.073 L 733.322 153.814 L 736.603 151.767 L 739.884 149.920 L 744.258 147.748 L 748.633 145.882 L 753.007 144.293 L 757.382 142.952 L 761.756 141.833 L 767.225 140.700 L 772.693 139.811 L 779.254 138.989 L 786.910 138.265 L 795.659 137.683 L 805.501 137.278 L 817.531 137.037 L 852.527 136.701 L 852.527 136.701" clip-path="url(#p29b7ed277d)" style="fill: none; stroke: #ff0000; stroke-linecap: square"/>
</g>
<g id="line2d_83">
<g><path d="M 629.97 97.2 L 647.28 97.2" clip-path="url(#p29b7ed277d)" style="fill: none; stroke: #0000ff; stroke-width: 1.5; stroke-linecap: butt"/><path d="M 647.28 97.2 L 664.56 97.2" clip-path="url(#p29b7ed277d)" style="fill: none; stroke: #0000ff; stroke-width: 1.5; stroke-linecap: butt"/><path d="M 664.56 97.2 L 681.84 97.2" clip-path="url(#p29b7ed277d)" style="fill: none; stroke: #0000ff; stroke-width: 1.5; stroke-linecap: butt"/><path d="M 681.84 97.2 L 699.12 97.2" clip-path="url(#p29b7ed277d)" style="fill: none; stroke: #0000ff; stroke-width: 1.5; stroke-linecap: butt"/><path d="M 699.12 97.2 L 716.4 97.2" clip-path="url(#p29b7ed277d)" style="fill: none; stroke: #0000ff; stroke-width: 1.5; stroke-linecap: butt"/><path d="M 716.4 97.2 L 733.68 97.2" clip-path="url(#p29b7ed277d)" style="fill: none; stroke: #0000ff; stroke-width: 1.5; stroke-linecap: butt"/><path d="M 733.68 97.2 L 750.96 97.2" clip-path="url(#p29b7ed277d)" style="fill: none; stroke: #0000ff; stroke-width: 1.5; stroke-linecap: butt"/><path d="M 750.96 97.2 L 768.24 97.2" clip-path="url(#p29b7ed277d)" style="fill: none; stroke: #0000ff; stroke-width: 1.5; stroke-linecap: butt"/><path d="M 768.24 97.2 L 785.52 97.2" clip-path="url(#p29b7ed277d)" style="fill: none; stroke: #0000ff; stroke-width: 1.5; stroke-linecap: butt"/><path d="M 785.52 97.2 L 802.8 97.2" clip-path="url(#p29b7ed277d)" style="fill: none; stroke: #0000ff; stroke-width: 1.5; stroke-linecap: butt"/><path d="M 802.8 97.2 L 820.08 97.2" clip-path="url(#p29b7ed277d)" style="fill: none; stroke: #0000ff; stroke-width: 1.5; stroke-linecap: butt"/><path d="M 820.08 97.2 L 837.36 97.2" clip-path="url(#p29b7ed277d)" style="fill: none; stroke: #0000ff; stroke-width: 1.5; stroke-linecap: butt"/><path d="M 837.36 97.2 L 853.95 97.2" clip-path="url(#p29b7ed277d)" style="fill: none; stroke: #0000ff; stroke-width: 1.5; stroke-linecap: butt"/></g>
</g>
<g id="line2d_84">
<g><path d="M 630.72 62.64 L 636.27 62.64" clip-path="url(#p29b7ed277d)" style="fill: none; stroke: #ff0000; stroke-width: 1.5; stroke-linecap: butt"/><path d="M 638.67 62.64 L 644.22 62.64" clip-path="url(#p29b7ed277d)" style="fill: none; stroke: #ff0000; stroke-width: 1.5; stroke-linecap: butt"/><path d="M 646.62 62.64 L 652.17 62.64" clip-path="url(#p29b7ed277d)" style="fill: none; stroke: #ff0000; stroke-width: 1.5; stroke-linecap: butt"/><path d="M 654.57 62.64 L 660.12 62.64" clip-path="url(#p29b7ed277d)" style="fill: none; stroke: #ff0000; stroke-width: 1.5; stroke-linecap: butt"/><path d="M 662.52 62.64 L 668.07 62.64" clip-path="url(#p29b7ed277d)" style="fill: none; stroke: #ff0000; stroke-width: 1.5; stroke-linecap: butt"/><path d="M 670.47 62.64 L 676.02 62.64" clip-path="url(#p29b7ed277d)" style="fill: none; stroke: #ff0000; stroke-width: 1.5; stroke-linecap: butt"/><path d="M 678.42 62.64 L 683.97 62.64" clip-path="url(#p29b7ed277d)" style="fill: none; stroke: #ff0000; stroke-width: 1.5; stroke-linecap: butt"/><path d="M 686.37 62.64 L 691.92 62.64" clip-path="url(#p29b7ed277d)" style="fill: none; stroke: #ff0000; stroke-width: 1.5; stroke-linecap: butt"/><path d="M 694.32 62.64 L 699.87 62.64" clip-path="url(#p29b7ed277d)" style="fill: none; stroke: #ff0000; stroke-width: 1.5; stroke-linecap: butt"/><path d="M 702.27 62.64 L 707.82 62.64" clip-path="url(#p29b7ed277d)" style="fill: none; stroke: #ff0000; stroke-width: 1.5; stroke-linecap: butt"/><path d="M 710.22 62.64 L 715.77 62.64" clip-path="url(#p29b7ed277d)" style="fill: none; stroke: #ff0000; stroke-width: 1.5; stroke-linecap: butt"/><path d="M 718.17 62.64 L 723.72 62.64" clip-path="url(#p29b7ed277d)" style="fill: none; stroke: #ff0000; stroke-width: 1.5; stroke-linecap: butt"/><path d="M 726.12 62.64 L 731.67 62.64" clip-path="url(#p29b7ed277d)" style="fill: none; stroke: #ff0000; stroke-width: 1.5; stroke-linecap: butt"/><path d="M 734.07 62.64 L 739.62 62.64" clip-path="url(#p29b7ed277d)" style="fill: none; stroke: #ff0000; stroke-width: 1.5; stroke-linecap: butt"/><path d="M 742.02 62.64 L 747.57 62.64" clip-path="url(#p29b7ed277d)" style="fill: none; stroke: #ff0000; stroke-width: 1.5; stroke-linecap: butt"/><path d="M 749.97 62.64 L 755.52 62.64" clip-path="url(#p29b7ed277d)" style="fill: none; stroke: #ff0000; stroke-width: 1.5; stroke-linecap: butt"/><path d="M 757.92 62.64 L 763.47 62.64" clip-path="url(#p29b7ed277d)" style="fill: none; stroke: #ff0000; stroke-width: 1.5; stroke-linecap: butt"/><path d="M 765.87 62.64 L 771.42 62.64" clip-path="url(#p29b7ed277d)" style="fill: none; stroke: #ff0000; stroke-width: 1.5; stroke-linecap: butt"/><path d="M 773.82 62.64 L 779.37 62.64" clip-path="url(#p29b7ed277d)" style="fill: none; stroke: #ff0000; stroke-width: 1.5; stroke-linecap: butt"/><path d="M 781.77 62.64 L 787.32 62.64" clip-path="url(#p29b7ed277d)" style="fill: none; stroke: #ff0000; stroke-width: 1.5; stroke-linecap: butt"/><path d="M 789.72 62.64 L 795.27 62.64" clip-path="url(#p29b7ed277d)" style="fill: none; stroke: #ff0000; stroke-width: 1.5; stroke-linecap: butt"/><path d="M 797.67 62.64 L 803.22 62.64" clip-path="url(#p29b7ed277d)" style="fill: none; stroke: #ff0000; stroke-width: 1.5; stroke-linecap: butt"/><path d="M 805.62 62.64 L 811.17 62.64" clip-path="url(#p29b7ed277d)" style="fill: none; stroke: #ff0000; stroke-width: 1.5; stroke-linecap: butt"/><path d="M 813.57 62.64 L 819.12 62.64" clip-path="url(#p29b7ed277d)" style="fill: none; stroke: #ff0000; stroke-width: 1.5; stroke-linecap: butt"/><path d="M 821.52 62.64 L 827.07 62.64" clip-path="url(#p29b7ed277d)" style="fill: none; stroke: #ff0000; stroke-width: 1.5; stroke-linecap: butt"/><path d="M 829.47 62.64 L 835.02 62.64" clip-path="url(#p29b7ed277d)" style="fill: none; stroke: #ff0000; stroke-width: 1.5; stroke-linecap: butt"/><path d="M 837.42 62.64 L 842.97 62.64" clip-path="url(#p29b7ed277d)" style="fill: none; stroke: #ff0000; stroke-width: 1.5; stroke-linecap: butt"/><path d="M 845.37 62.64 L 850.92 62.64" clip-path="url(#p29b7ed277d)" style="fill: none; stroke: #ff0000; stroke-width: 1.5; stroke-linecap: butt"/></g>
</g>
<g id="patch_17">
<g><path d="M 631.08 244.12 L 631.08 226.8" style="fill: none; stroke: #000000; stroke-width: 0.8; stroke-linejoin: miter; stroke-linecap: butt"/><path d="M 631.08 226.8 L 631.08 209.52" style="fill: none; stroke: #000000; stroke-width: 0.8; stroke-linejoin: miter; stroke-linecap: butt"/><path d="M 631.08 209.52 L 631.08 192.24" style="fill: none; stroke: #000000; stroke-width: 0.8; stroke-linejoin: miter; stroke-linecap: butt"/><path d="M 631.08 192.24 L 631.08 174.96" style="fill: none; stroke: #000000; stroke-width: 0.8; stroke-linejoin: miter; stroke-linecap: butt"/><path d="M 631.08 174.96 L 631.08 157.68" style="fill: none; stroke: #000000; stroke-width: 0.8; stroke-linejoin: miter; stroke-linecap: butt"/><path d="M 631.08 157.68 L 631.08 140.4" style="fill: none; stroke: #000000; stroke-width: 0.8; stroke-linejoin: miter; stroke-linecap: butt"/><path d="M 631.08 140.4 L 631.08 123.12" style="fill: none; stroke: #000000; stroke-width: 0.8; stroke-linejoin: miter; stroke-linecap: butt"/><path d="M 631.08 123.12 L 631.08 105.84" style="fill: none; stroke: #000000; stroke-width: 0.8; stroke-linejoin: miter; stroke-linecap: butt"/><path d="M 631.08 105.84 L 631.08 88.56" style="fill: none; stroke: #000000; stroke-width: 0.8; stroke-linejoin: miter; stroke-linecap: butt"/><path d="M 631.08 88.56 L 631.08 71.28" style="fill: none; stroke: #000000; stroke-width: 0.8; stroke-linejoin: miter; stroke-linecap: butt"/><path d="M 631.08 71.28 L 631.08 54" style="fill: none; stroke: #000000; stroke-width: 0.8; stroke-linejoin: miter; stroke-linecap: butt"/><path d="M 631.08 54 L 631.08 36.72" style="fill: none; stroke: #000000; stroke-width: 0.8; stroke-linejoin: miter; stroke-linecap: butt"/><path d="M 631.08 36.72 L 631.08 25.88" style="fill: none; stroke: #000000; stroke-width: 0.8; stroke-linejoin: miter; stroke-linecap: butt"/></g>
</g>
<g id="patch_18">
<g><path d="M 853.56 244.12 L 853.56 226.8" style="fill: none; stroke: #000000; stroke-width: 0.8; stroke-linejoin: miter; stroke-linecap: butt"/><path d="M 853.56 226.8 L 853.56 209.52" style="fill: none; stroke: #000000; stroke-width: 0.8; stroke-linejoin: miter; stroke-linecap: butt"/><path d="M 853.56 209.52 L 853.56 192.24" style="fill: none; stroke: #000000; stroke-width: 0.8; stroke-linejoin: miter; stroke-linecap: butt"/><path d="M 853.56 192.24 L 853.56 174.96" style="fill: none; stroke: #000000; stroke-width: 0.8; stroke-linejoin: miter; stroke-linecap: butt"/><path d="M 853.56 174.96 L 853.56 157.68" style="fill: none; stroke: #000000; stroke-width: 0.8; stroke-linejoin: miter; stroke-linecap: butt"/><path d="M 853.56 157.68 L 853.56 140.4" style="fill: none; stroke: #000000; stroke-width: 0.8; stroke-linejoin: miter; stroke-linecap: butt"/><path d="M 853.56 140.4 L 853.56 123.12" style="fill: none; stroke: #000000; stroke-width: 0.8; stroke-linejoin: miter; stroke-linecap: butt"/><path d="M 853.56 123.12 L 853.56 105.84" style="fill: none; stroke: #000000; stroke-width: 0.8; stroke-linejoin: miter; stroke-linecap: butt"/><path d="M 853.56 105.84 L 853.56 88.56" style="fill: none; stroke: #000000; stroke-width: 0.8; stroke-linejoin: miter; stroke-linecap: butt"/><path d="M 853.56 88.56 L 853.56 71.28" style="fill: none; stroke: #000000; stroke-width: 0.8; stroke-linejoin: miter; stroke-linecap: butt"/><path d="M 853.56 71.28 L 853.56 54" style="fill: none; stroke: #000000; stroke-width: 0.8; stroke-linejoin: miter; stroke-linecap: butt"/><path d="M 853.56 54 L 853.56 36.72" style="fill: none; stroke: #000000; stroke-width: 0.8; stroke-linejoin: miter; stroke-linecap: butt"/><path d="M 853.56 36.72 L 853.56 25.88" style="fill: none; stroke: #000000; stroke-width: 0.8; stroke-linejoin: miter; stroke-linecap: butt"/></g>
</g>
<g id="patch_19">
<g><path d="M 630.68 243.72 L 648 243.72" style="fill: none; stroke: #000000; stroke-width: 0.8; stroke-linejoin: miter; stroke-linecap: butt"/><path d="M 648 243.72 L 665.28 243.72" style="fill: none; stroke: #000000; stroke-width: 0.8; stroke-linejoin: miter; stroke-linecap: butt"/><path d="M 665.28 243.72 L 682.56 243.72" style="fill: none; stroke: #000000; stroke-width: 0.8; stroke-linejoin: miter; stroke-linecap: butt"/><path d="M 682.56 243.72 L 699.84 243.72" style="fill: none; stroke: #000000; stroke-width: 0.8; stroke-linejoin: miter; stroke-linecap: butt"/><path d="M 699.84 243.72 L 717.12 243.72" style="fill: none; stroke: #000000; stroke-width: 0.8; stroke-linejoin: miter; stroke-linecap: butt"/><path d="M 717.12 243.72 L 734.4 243.72" style="fill: none; stroke: #000000; stroke-width: 0.8; stroke-linejoin: miter; stroke-linecap: butt"/><path d="M 734.4 243.72 L 751.68 243.72" style="fill: none; stroke: #000000; stroke-width: 0.8; stroke-linejoin: miter; stroke-linecap: butt"/><path d="M 751.68 243.72 L 768.96 243.72" style="fill: none; stroke: #000000; stroke-width: 0.8; stroke-linejoin: miter; stroke-linecap: butt"/><path d="M 768.96 243.72 L 786.24 243.72" style="fill: none; stroke: #000000; stroke-width: 0.8; stroke-linejoin: miter; stroke-linecap: butt"/><path d="M 786.24 243.72 L 803.52 243.72" style="fill: none; stroke: #000000; stroke-width: 0.8; stroke-linejoin: miter; stroke-linecap: butt"/><path d="M 803.52 243.72 L 820.8 243.72" style="fill: none; stroke: #000000; stroke-width: 0.8; stroke-linejoin: miter; stroke-linecap: butt"/><path d="M 820.8 243.72 L 838.08 243.72" style="fill: none; stroke: #000000; stroke-width: 0.8; stroke-linejoin: miter; stroke-linecap: butt"/><path d="M 838.08 243.72 L 853.96 243.72" style="fill: none; stroke: #000000; stroke-width: 0.8; stroke-linejoin: miter; stroke-linecap: butt"/></g>
</g>
<g id="patch_20">
<g><path d="M 630.68 26.28 L 648 26.28" style="fill: none; stroke: #000000; stroke-width: 0.8; stroke-linejoin: miter; stroke-linecap: butt"/><path d="M 648 26.28 L 665.28 26.28" style="fill: none; stroke: #000000; stroke-width: 0.8; stroke-linejoin: miter; stroke-linecap: butt"/><path d="M 665.28 26.28 L 682.56 26.28" style="fill: none; stroke: #000000; stroke-width: 0.8; stroke-linejoin: miter; stroke-linecap: butt"/><path d="M 682.56 26.28 L 699.84 26.28" style="fill: none; stroke: #000000; stroke-width: 0.8; stroke-linejoin: miter; stroke-linecap: butt"/><path d="M 699.84 26.28 L 717.12 26.28" style="fill: none; stroke: #000000; stroke-width: 0.8; stroke-linejoin: miter; stroke-linecap: butt"/><path d="M 717.12 26.28 L 734.4 26.28" style="fill: none; stroke: #000000; stroke-width: 0.8; stroke-linejoin: miter; stroke-linecap: butt"/><path d="M 734.4 26.28 L 751.68 26.28" style="fill: none; stroke: #000000; stroke-width: 0.8; stroke-linejoin: miter; stroke-linecap: butt"/><path d="M 751.68 26.28 L 768.96 26.28" style="fill: none; stroke: #000000; stroke-width: 0.8; stroke-linejoin: miter; stroke-linecap: butt"/><path d="M 768.96 26.28 L 786.24 26.28" style="fill: none; stroke: #000000; stroke-width: 0.8; stroke-linejoin: miter; stroke-linecap: butt"/><path d="M 786.24 26.28 L 803.52 26.28" style="fill: none; stroke: #000000; stroke-width: 0.8; stroke-linejoin: miter; stroke-linecap: butt"/><path d="M 803.52 26.28 L 820.8 26.28" style="fill: none; stroke: #000000; stroke-width: 0.8; stroke-linejoin: miter; stroke-linecap: butt"/><path d="M 820.8 26.28 L 838.08 26.28" style="fill: none; stroke: #000000; stroke-width: 0.8; stroke-linejoin: miter; stroke-linecap: butt"/><path d="M 838.08 26.28 L 853.96 26.28" style="fill: none; stroke: #000000; stroke-width: 0.8; stroke-linejoin: miter; stroke-linecap: butt"/></g>
</g>
<g id="tx236"><text transform="translate(684 11.52)" style="font-family: 'DejaVu Sans', 'Liberation Sans', sans-serif"><tspan x="1.44" y="8.64" style="font-size: 10px; font-style: oblique">j</tspan><tspan x="4.32 7.2 11.52" y="10.08" style="font-size: 7px; font-style: oblique">tot</tspan><tspan x="16.56 26.64 33.12 39.6 45.36 48.96 52.56 59.04 61.92 68.4 74.88 77.76 83.52 87.12 93.6 99.36 105.84 112.32" y="8.64" style="font-size: 10px">=302 (0.81 x RF12)</tspan></text></g>
<g id="legend_3">
<g id="patch_21">
<path d="M 652.68 238.68 L 846.36 238.68 Q 848.52 238.68 848.52 236.52 L 848.52 153.72 Q 848.52 151.56 846.36 151.56 L 652.68 151.56 Q 650.52 151.56 650.52 153.72 L 650.52 236.52 Q 650.52 238.68 652.68 238.68 z" style="fill: #ffffff; fill-opacity: 0.8; stroke: #cccccc; stroke-opacity: 0.8; stroke-linejoin: miter"/>
</g>
<g id="line2d_85">
<path d="M 653.76 159.84 L 663.84 159.84 L 673.92 159.84" style="fill: none; stroke-dasharray: 1.5,2.475; stroke-dashoffset: 0; stroke: #1f77b4; stroke-width: 1.5"/>
</g>
<g id="tx240"><text transform="translate(681.84 162.72)" style="font-family: 'DejaVu Sans', 'Liberation Sans', sans-serif"><tspan x="0 6.3 9.45 16.38 22.68 28.89 31.68" y="0" style="font-size: 10px">2 Rhalf</tspan></text></g>
<g id="line2d_86">
<path d="M 653.76 176.4 L 663.84 176.4 L 673.92 176.4" style="fill: none; stroke: #000000; stroke-width: 1.5; stroke-linecap: square"/>
</g>
<g id="tx241"><text transform="translate(681.84 170.64)" style="font-family: 'DejaVu Sans', 'Liberation Sans', sans-serif"><tspan x="1.44" y="8.64" style="font-size: 10px; font-style: oblique">j</tspan><tspan x="4.32 10.08" y="8.64" style="font-size: 10px">(&lt;</tspan><tspan x="20.16" y="8.64" style="font-size: 10px; font-style: oblique">r</tspan><tspan x="24.48 28.08 31.68 36.72 43.2 46.8 52.56 54.72 60.48 63.36 71.28 78.48 84.96 91.44 99.36 107.28 113.76 118.8 125.28 131.76 136.8 143.28 149.04 155.52" y="8.64" style="font-size: 10px">) sersic DC14MGEsgasnone</tspan></text></g>
<g id="patch_22">
<path d="M 654.12 196.2 L 674.28 196.2 L 674.28 189.72 L 654.12 189.72 z" style="fill: #808080; fill-opacity: 0.5; stroke: #808080; stroke-opacity: 0.5; stroke-linejoin: miter"/>
</g>
<g id="tx242"><text transform="translate(681.84 196.2)" style="font-family: 'DejaVu Sans', 'Liberation Sans', sans-serif"><tspan x="0 7.02 12.6 15.75 22.14 28.44 31.77" y="0" style="font-size: 10px">CL 95\%</tspan></text></g>
<g id="line2d_87">
<path d="M 653.76 208.8 L 663.84 208.8 L 673.92 208.8" style="fill: none; stroke: #0000ff; stroke-width: 1.5; stroke-linecap: square"/>
</g>
<g id="tx243"><text transform="translate(681.84 203.76)" style="font-family: 'DejaVu Sans', 'Liberation Sans', sans-serif"><tspan x="1.44" y="8.64" style="font-size: 10px; font-style: oblique">j</tspan><tspan x="4.32 10.8 15.12" y="10.08" style="font-size: 7px; font-style: oblique">max</tspan><tspan x="19.44 23.04 26.64 33.12 40.32" y="8.64" style="font-size: 10px"> (3D)</tspan></text></g>
<g id="line2d_88">
<path d="M 653.76 226.8 L 663.84 226.8 L 673.92 226.8" style="fill: none; stroke-dasharray: 5.55,2.4; stroke-dashoffset: 0; stroke: #ff0000; stroke-width: 1.5"/>
</g>
<g id="tx244"><text transform="translate(681.84 221.76)" style="font-family: 'DejaVu Sans', 'Liberation Sans', sans-serif"><tspan x="1.44" y="8.64" style="font-size: 10px; font-style: oblique">j</tspan><tspan x="4.32 10.8 15.12" y="10.08" style="font-size: 7px; font-style: oblique">max</tspan><tspan x="19.44 23.04 26.64 33.84 39.6 46.08 52.56" y="8.64" style="font-size: 10px"> (RF12)</tspan></text></g>
</g>
</g>
</g>
<defs>
<clipPath id="p9da2a6574b">
<rect x="55.44" y="25.92" width="222.48" height="217.44"/>
</clipPath>
<clipPath id="pda94e3d83f">
<rect x="343.44" y="25.92" width="222.48" height="217.44"/>
</clipPath>
<clipPath id="p29b7ed277d">
<rect x="630.72" y="25.92" width="222.48" height="217.44"/>
</clipPath>
</defs>
</svg>

</body>
</html>
